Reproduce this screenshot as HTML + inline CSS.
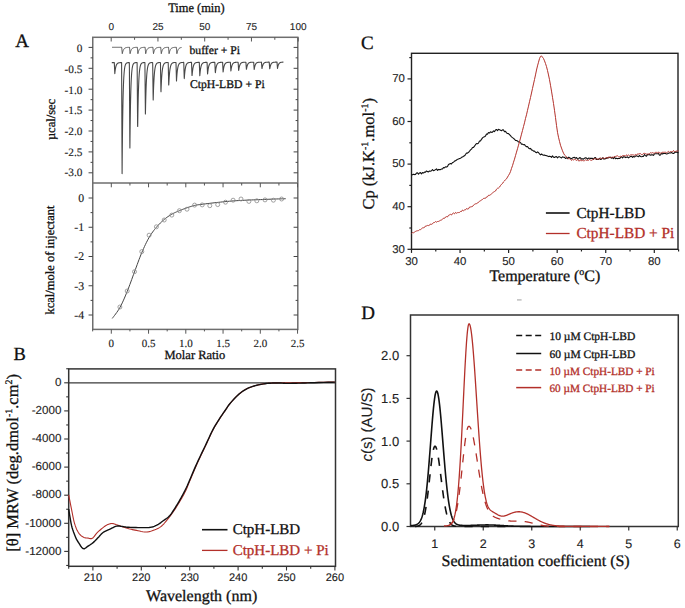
<!DOCTYPE html>
<html><head><meta charset="utf-8"><style>
html,body{margin:0;padding:0;background:#fff;overflow:hidden;}
svg{display:block;} text{text-rendering:geometricPrecision;}
</style></head><body>
<svg width="685" height="608" viewBox="0 0 685 608"><rect x="92.75" y="37.3" width="205.05" height="292.1" fill="none" stroke="#6e6e6e" stroke-width="1.5"/>
<line x1="92.75" y1="183" x2="297.8" y2="183" stroke="#6e6e6e" stroke-width="1.5" />
<line x1="111.2" y1="37.3" x2="111.2" y2="41.5" stroke="#555" stroke-width="1" />
<line x1="134.57" y1="37.3" x2="134.57" y2="39.8" stroke="#555" stroke-width="1" />
<line x1="157.95" y1="37.3" x2="157.95" y2="41.5" stroke="#555" stroke-width="1" />
<line x1="181.32" y1="37.3" x2="181.32" y2="39.8" stroke="#555" stroke-width="1" />
<line x1="204.7" y1="37.3" x2="204.7" y2="41.5" stroke="#555" stroke-width="1" />
<line x1="228.07" y1="37.3" x2="228.07" y2="39.8" stroke="#555" stroke-width="1" />
<line x1="251.45" y1="37.3" x2="251.45" y2="41.5" stroke="#555" stroke-width="1" />
<line x1="274.82" y1="37.3" x2="274.82" y2="39.8" stroke="#555" stroke-width="1" />
<line x1="298.2" y1="37.3" x2="298.2" y2="41.5" stroke="#555" stroke-width="1" />
<text x="111.2" y="29.6"  font-family='"Liberation Sans", sans-serif' font-size="10" text-anchor="middle" fill="#222" font-weight="normal" stroke="#222" stroke-width="0.1" >0</text>
<text x="157.95" y="29.6"  font-family='"Liberation Sans", sans-serif' font-size="10" text-anchor="middle" fill="#222" font-weight="normal" stroke="#222" stroke-width="0.1" >25</text>
<text x="204.7" y="29.6"  font-family='"Liberation Sans", sans-serif' font-size="10" text-anchor="middle" fill="#222" font-weight="normal" stroke="#222" stroke-width="0.1" >50</text>
<text x="251.45" y="29.6"  font-family='"Liberation Sans", sans-serif' font-size="10" text-anchor="middle" fill="#222" font-weight="normal" stroke="#222" stroke-width="0.1" >75</text>
<text x="298.2" y="29.6"  font-family='"Liberation Sans", sans-serif' font-size="10" text-anchor="middle" fill="#222" font-weight="normal" stroke="#222" stroke-width="0.1" >100</text>
<text x="0" y="0" transform="translate(168.2,11.8) scale(0.955,1)" font-family='"Liberation Serif", serif' font-size="13" text-anchor="start" fill="#111" font-weight="normal" stroke="#111" stroke-width="0.3" >Time (min)</text>
<line x1="88.55" y1="47.4" x2="92.75" y2="47.4" stroke="#444" stroke-width="1" />
<line x1="293.6" y1="47.4" x2="297.8" y2="47.4" stroke="#444" stroke-width="1" />
<line x1="90.55" y1="57.85" x2="92.75" y2="57.85" stroke="#444" stroke-width="1" />
<line x1="295.6" y1="57.85" x2="297.8" y2="57.85" stroke="#444" stroke-width="1" />
<line x1="88.55" y1="68.3" x2="92.75" y2="68.3" stroke="#444" stroke-width="1" />
<line x1="293.6" y1="68.3" x2="297.8" y2="68.3" stroke="#444" stroke-width="1" />
<line x1="90.55" y1="78.75" x2="92.75" y2="78.75" stroke="#444" stroke-width="1" />
<line x1="295.6" y1="78.75" x2="297.8" y2="78.75" stroke="#444" stroke-width="1" />
<line x1="88.55" y1="89.2" x2="92.75" y2="89.2" stroke="#444" stroke-width="1" />
<line x1="293.6" y1="89.2" x2="297.8" y2="89.2" stroke="#444" stroke-width="1" />
<line x1="90.55" y1="99.65" x2="92.75" y2="99.65" stroke="#444" stroke-width="1" />
<line x1="295.6" y1="99.65" x2="297.8" y2="99.65" stroke="#444" stroke-width="1" />
<line x1="88.55" y1="110.1" x2="92.75" y2="110.1" stroke="#444" stroke-width="1" />
<line x1="293.6" y1="110.1" x2="297.8" y2="110.1" stroke="#444" stroke-width="1" />
<line x1="90.55" y1="120.55" x2="92.75" y2="120.55" stroke="#444" stroke-width="1" />
<line x1="295.6" y1="120.55" x2="297.8" y2="120.55" stroke="#444" stroke-width="1" />
<line x1="88.55" y1="131" x2="92.75" y2="131" stroke="#444" stroke-width="1" />
<line x1="293.6" y1="131" x2="297.8" y2="131" stroke="#444" stroke-width="1" />
<line x1="90.55" y1="141.45" x2="92.75" y2="141.45" stroke="#444" stroke-width="1" />
<line x1="295.6" y1="141.45" x2="297.8" y2="141.45" stroke="#444" stroke-width="1" />
<line x1="88.55" y1="151.9" x2="92.75" y2="151.9" stroke="#444" stroke-width="1" />
<line x1="293.6" y1="151.9" x2="297.8" y2="151.9" stroke="#444" stroke-width="1" />
<line x1="90.55" y1="162.35" x2="92.75" y2="162.35" stroke="#444" stroke-width="1" />
<line x1="295.6" y1="162.35" x2="297.8" y2="162.35" stroke="#444" stroke-width="1" />
<line x1="88.55" y1="172.8" x2="92.75" y2="172.8" stroke="#444" stroke-width="1" />
<line x1="293.6" y1="172.8" x2="297.8" y2="172.8" stroke="#444" stroke-width="1" />
<text x="82.5" y="52.2"  font-family='"Liberation Serif", serif' font-size="11.3" text-anchor="end" fill="#222" font-weight="normal" stroke="#222" stroke-width="0.15" >0</text>
<text x="82.5" y="72.87"  font-family='"Liberation Serif", serif' font-size="11.3" text-anchor="end" fill="#222" font-weight="normal" stroke="#222" stroke-width="0.15" >-0.5</text>
<text x="82.5" y="93.54"  font-family='"Liberation Serif", serif' font-size="11.3" text-anchor="end" fill="#222" font-weight="normal" stroke="#222" stroke-width="0.15" >-1.0</text>
<text x="82.5" y="114.21"  font-family='"Liberation Serif", serif' font-size="11.3" text-anchor="end" fill="#222" font-weight="normal" stroke="#222" stroke-width="0.15" >-1.5</text>
<text x="82.5" y="134.88"  font-family='"Liberation Serif", serif' font-size="11.3" text-anchor="end" fill="#222" font-weight="normal" stroke="#222" stroke-width="0.15" >-2.0</text>
<text x="82.5" y="155.55"  font-family='"Liberation Serif", serif' font-size="11.3" text-anchor="end" fill="#222" font-weight="normal" stroke="#222" stroke-width="0.15" >-2.5</text>
<text x="82.5" y="176.22"  font-family='"Liberation Serif", serif' font-size="11.3" text-anchor="end" fill="#222" font-weight="normal" stroke="#222" stroke-width="0.15" >-3.0</text>
<line x1="111.3" y1="183" x2="111.3" y2="187.3" stroke="#555" stroke-width="1" />
<line x1="111.3" y1="329.4" x2="111.3" y2="333.7" stroke="#555" stroke-width="1" />
<line x1="129.93" y1="183" x2="129.93" y2="185.5" stroke="#555" stroke-width="1" />
<line x1="129.93" y1="329.4" x2="129.93" y2="331.4" stroke="#555" stroke-width="1" />
<line x1="148.55" y1="183" x2="148.55" y2="187.3" stroke="#555" stroke-width="1" />
<line x1="148.55" y1="329.4" x2="148.55" y2="333.7" stroke="#555" stroke-width="1" />
<line x1="167.18" y1="183" x2="167.18" y2="185.5" stroke="#555" stroke-width="1" />
<line x1="167.18" y1="329.4" x2="167.18" y2="331.4" stroke="#555" stroke-width="1" />
<line x1="185.8" y1="183" x2="185.8" y2="187.3" stroke="#555" stroke-width="1" />
<line x1="185.8" y1="329.4" x2="185.8" y2="333.7" stroke="#555" stroke-width="1" />
<line x1="204.43" y1="183" x2="204.43" y2="185.5" stroke="#555" stroke-width="1" />
<line x1="204.43" y1="329.4" x2="204.43" y2="331.4" stroke="#555" stroke-width="1" />
<line x1="223.05" y1="183" x2="223.05" y2="187.3" stroke="#555" stroke-width="1" />
<line x1="223.05" y1="329.4" x2="223.05" y2="333.7" stroke="#555" stroke-width="1" />
<line x1="241.68" y1="183" x2="241.68" y2="185.5" stroke="#555" stroke-width="1" />
<line x1="241.68" y1="329.4" x2="241.68" y2="331.4" stroke="#555" stroke-width="1" />
<line x1="260.3" y1="183" x2="260.3" y2="187.3" stroke="#555" stroke-width="1" />
<line x1="260.3" y1="329.4" x2="260.3" y2="333.7" stroke="#555" stroke-width="1" />
<line x1="278.93" y1="183" x2="278.93" y2="185.5" stroke="#555" stroke-width="1" />
<line x1="278.93" y1="329.4" x2="278.93" y2="331.4" stroke="#555" stroke-width="1" />
<line x1="297.55" y1="183" x2="297.55" y2="187.3" stroke="#555" stroke-width="1" />
<line x1="297.55" y1="329.4" x2="297.55" y2="333.7" stroke="#555" stroke-width="1" />
<line x1="92.67" y1="329.4" x2="92.67" y2="331.4" stroke="#555" stroke-width="1" />
<line x1="88.55" y1="198" x2="92.75" y2="198" stroke="#444" stroke-width="1" />
<line x1="293.6" y1="198" x2="297.8" y2="198" stroke="#444" stroke-width="1" />
<line x1="90.55" y1="212.62" x2="92.75" y2="212.62" stroke="#444" stroke-width="1" />
<line x1="295.6" y1="212.62" x2="297.8" y2="212.62" stroke="#444" stroke-width="1" />
<line x1="88.55" y1="227.25" x2="92.75" y2="227.25" stroke="#444" stroke-width="1" />
<line x1="293.6" y1="227.25" x2="297.8" y2="227.25" stroke="#444" stroke-width="1" />
<line x1="90.55" y1="241.88" x2="92.75" y2="241.88" stroke="#444" stroke-width="1" />
<line x1="295.6" y1="241.88" x2="297.8" y2="241.88" stroke="#444" stroke-width="1" />
<line x1="88.55" y1="256.5" x2="92.75" y2="256.5" stroke="#444" stroke-width="1" />
<line x1="293.6" y1="256.5" x2="297.8" y2="256.5" stroke="#444" stroke-width="1" />
<line x1="90.55" y1="271.12" x2="92.75" y2="271.12" stroke="#444" stroke-width="1" />
<line x1="295.6" y1="271.12" x2="297.8" y2="271.12" stroke="#444" stroke-width="1" />
<line x1="88.55" y1="285.75" x2="92.75" y2="285.75" stroke="#444" stroke-width="1" />
<line x1="293.6" y1="285.75" x2="297.8" y2="285.75" stroke="#444" stroke-width="1" />
<line x1="90.55" y1="300.38" x2="92.75" y2="300.38" stroke="#444" stroke-width="1" />
<line x1="295.6" y1="300.38" x2="297.8" y2="300.38" stroke="#444" stroke-width="1" />
<line x1="88.55" y1="315" x2="92.75" y2="315" stroke="#444" stroke-width="1" />
<line x1="293.6" y1="315" x2="297.8" y2="315" stroke="#444" stroke-width="1" />
<text x="84.1" y="201.9"  font-family='"Liberation Serif", serif' font-size="11.8" text-anchor="end" fill="#222" font-weight="normal" stroke="#222" stroke-width="0.15" >0</text>
<text x="84.1" y="231.15"  font-family='"Liberation Serif", serif' font-size="11.8" text-anchor="end" fill="#222" font-weight="normal" stroke="#222" stroke-width="0.15" >-1</text>
<text x="84.1" y="260.4"  font-family='"Liberation Serif", serif' font-size="11.8" text-anchor="end" fill="#222" font-weight="normal" stroke="#222" stroke-width="0.15" >-2</text>
<text x="84.1" y="289.65"  font-family='"Liberation Serif", serif' font-size="11.8" text-anchor="end" fill="#222" font-weight="normal" stroke="#222" stroke-width="0.15" >-3</text>
<text x="84.1" y="318.9"  font-family='"Liberation Serif", serif' font-size="11.8" text-anchor="end" fill="#222" font-weight="normal" stroke="#222" stroke-width="0.15" >-4</text>
<text x="111.3" y="346.6"  font-family='"Liberation Serif", serif' font-size="11" text-anchor="middle" fill="#222" font-weight="normal" stroke="#222" stroke-width="0.15" >0</text>
<text x="148.55" y="346.6"  font-family='"Liberation Serif", serif' font-size="11" text-anchor="middle" fill="#222" font-weight="normal" stroke="#222" stroke-width="0.15" >0.5</text>
<text x="185.8" y="346.6"  font-family='"Liberation Serif", serif' font-size="11" text-anchor="middle" fill="#222" font-weight="normal" stroke="#222" stroke-width="0.15" >1.0</text>
<text x="223.05" y="346.6"  font-family='"Liberation Serif", serif' font-size="11" text-anchor="middle" fill="#222" font-weight="normal" stroke="#222" stroke-width="0.15" >1.5</text>
<text x="260.3" y="346.6"  font-family='"Liberation Serif", serif' font-size="11" text-anchor="middle" fill="#222" font-weight="normal" stroke="#222" stroke-width="0.15" >2.0</text>
<text x="297.55" y="346.6"  font-family='"Liberation Serif", serif' font-size="11" text-anchor="middle" fill="#222" font-weight="normal" stroke="#222" stroke-width="0.15" >2.5</text>
<text x="164.5" y="358.5"  font-family='"Liberation Serif", serif' font-size="12.5" text-anchor="start" fill="#111" font-weight="normal" stroke="#111" stroke-width="0.3" >Molar Ratio</text>
<text x="0" y="0" transform="translate(54.8,119.5) rotate(-90)" font-family='"Liberation Serif", serif' font-size="12.5" text-anchor="middle" fill="#111" font-weight="normal" stroke="#111" stroke-width="0.3" >µcal/sec</text>
<text x="0" y="0" transform="translate(53.6,260) rotate(-90)" font-family='"Liberation Serif", serif' font-size="12.5" text-anchor="middle" fill="#111" font-weight="normal" stroke="#111" stroke-width="0.3" >kcal/mole of injectant</text>
<text x="15.3" y="46.9"  font-family='"Liberation Serif", serif' font-size="19" text-anchor="start" fill="#111" font-weight="normal" stroke="#111" stroke-width="0.3" >A</text>
<text x="189.5" y="54"  font-family='"Liberation Serif", serif' font-size="11.7" text-anchor="start" fill="#111" font-weight="normal" stroke="#111" stroke-width="0.3" >buffer + Pi</text>
<text x="189.9" y="88.3"  font-family='"Liberation Serif", serif' font-size="11.7" text-anchor="start" fill="#111" font-weight="normal" stroke="#111" stroke-width="0.3" >CtpH-LBD + Pi</text>
<path d="M112,47.3 L112.1,47.3 L112.2,47.3 L112.3,47.3 L112.4,47.3 L112.5,47.3 L112.6,47.3 L112.7,47.3 L112.8,47.3 L112.9,47.3 L113,47.3 L113.1,47.3 L113.2,47.3 L113.3,47.3 L113.4,47.3 L113.5,47.3 L113.6,47.3 L113.7,47.3 L113.8,47.3 L113.9,47.3 L114,47.3 L114.1,47.3 L114.2,47.3 L114.3,47.3 L114.4,47.3 L114.5,47.3 L114.6,47.3 L114.7,47.3 L114.8,47.3 L114.9,47.3 L115,47.3 L115.1,47.3 L115.2,47.3 L115.3,47.3 L115.4,47.3 L115.5,47.3 L115.6,47.3 L115.7,47.3 L115.8,47.3 L115.9,47.3 L116,47.3 L116.1,47.3 L116.2,47.3 L116.3,47.3 L116.4,47.3 L116.5,47.3 L116.6,47.3 L116.7,47.3 L116.8,47.3 L116.9,47.3 L117,47.3 L117.1,47.3 L117.2,47.3 L117.3,47.3 L117.4,47.3 L117.5,47.3 L117.6,47.3 L117.7,47.3 L117.8,47.3 L117.9,47.3 L118,47.3 L118.1,47.3 L118.2,47.3 L118.3,47.3 L118.4,47.3 L118.5,47.3 L118.6,47.3 L118.7,47.3 L118.8,47.3 L118.9,47.3 L119,47.3 L119.1,47.3 L119.2,47.3 L119.3,47.3 L119.4,47.3 L119.5,47.3 L119.6,47.3 L119.7,47.3 L119.8,47.3 L119.9,47.3 L120,47.3 L120.1,47.3 L120.2,47.3 L120.3,47.3 L120.4,47.3 L120.5,47.3 L120.6,47.3 L120.7,47.3 L120.8,47.3 L120.9,47.3 L121,47.3 L121.1,47.3 L121.2,47.3 L121.3,47.3 L121.4,47.3 L121.5,47.3 L121.6,47.3 L121.7,47.3 L121.8,48.35 L121.9,49.4 L122,50.45 L122.1,51.5 L122.2,52.55 L122.3,53.6 L122.4,53.13 L122.5,52.7 L122.6,52.3 L122.7,51.93 L122.8,51.59 L122.9,51.27 L123,50.98 L123.1,50.7 L123.2,50.45 L123.3,50.22 L123.4,50 L123.5,49.8 L123.6,49.62 L123.7,49.45 L123.8,49.29 L123.9,49.14 L124,49 L124.1,48.88 L124.2,48.76 L124.3,48.65 L124.4,48.55 L124.5,48.46 L124.6,48.37 L124.7,48.29 L124.8,48.22 L124.9,48.15 L125,48.09 L125.1,48.03 L125.2,47.98 L125.3,47.93 L125.4,47.88 L125.5,47.84 L125.6,47.8 L125.7,47.76 L125.8,47.73 L125.9,47.7 L126,47.67 L126.1,47.64 L126.2,47.61 L126.3,47.59 L126.4,47.57 L126.5,47.55 L126.6,47.53 L126.7,47.51 L126.8,47.5 L126.9,47.48 L127,47.47 L127.1,47.46 L127.2,47.45 L127.3,47.43 L127.4,47.42 L127.5,47.42 L127.6,47.41 L127.7,47.4 L127.8,47.39 L127.9,47.38 L128,47.38 L128.1,47.37 L128.2,47.37 L128.3,47.36 L128.4,47.36 L128.5,47.35 L128.6,47.35 L128.7,47.35 L128.8,47.34 L128.9,47.34 L129,47.34 L129.1,47.33 L129.2,47.33 L129.3,47.33 L129.4,47.33 L129.5,47.32 L129.6,48.37 L129.7,49.42 L129.8,50.47 L129.9,51.52 L130,52.57 L130.1,53.62 L130.2,53.15 L130.3,52.72 L130.4,52.31 L130.5,51.94 L130.6,51.6 L130.7,51.28 L130.8,50.99 L130.9,50.71 L131,50.46 L131.1,50.23 L131.2,50.01 L131.3,49.81 L131.4,49.62 L131.5,49.45 L131.6,49.29 L131.7,49.14 L131.8,49.01 L131.9,48.88 L132,48.76 L132.1,48.66 L132.2,48.56 L132.3,48.46 L132.4,48.38 L132.5,48.3 L132.6,48.22 L132.7,48.15 L132.8,48.09 L132.9,48.03 L133,47.98 L133.1,47.93 L133.2,47.88 L133.3,47.84 L133.4,47.8 L133.5,47.76 L133.6,47.73 L133.7,47.7 L133.8,47.67 L133.9,47.64 L134,47.61 L134.1,47.59 L134.2,47.57 L134.3,47.55 L134.4,47.53 L134.5,47.51 L134.6,47.5 L134.7,47.48 L134.8,47.47 L134.9,47.46 L135,47.45 L135.1,47.43 L135.2,47.42 L135.3,47.42 L135.4,47.41 L135.5,47.4 L135.6,47.39 L135.7,47.39 L135.8,47.38 L135.9,47.37 L136,47.37 L136.1,47.36 L136.2,47.36 L136.3,47.35 L136.4,47.35 L136.5,47.35 L136.6,47.34 L136.7,47.34 L136.8,47.34 L136.9,47.33 L137,47.33 L137.1,47.33 L137.2,47.33 L137.3,47.32 L137.4,48.37 L137.5,49.42 L137.6,50.47 L137.7,51.52 L137.8,52.57 L137.9,53.62 L138,53.15 L138.1,52.72 L138.2,52.31 L138.3,51.94 L138.4,51.6 L138.5,51.28 L138.6,50.99 L138.7,50.71 L138.8,50.46 L138.9,50.23 L139,50.01 L139.1,49.81 L139.2,49.62 L139.3,49.45 L139.4,49.29 L139.5,49.14 L139.6,49.01 L139.7,48.88 L139.8,48.76 L139.9,48.66 L140,48.56 L140.1,48.46 L140.2,48.38 L140.3,48.3 L140.4,48.22 L140.5,48.15 L140.6,48.09 L140.7,48.03 L140.8,47.98 L140.9,47.93 L141,47.88 L141.1,47.84 L141.2,47.8 L141.3,47.76 L141.4,47.73 L141.5,47.7 L141.6,47.67 L141.7,47.64 L141.8,47.61 L141.9,47.59 L142,47.57 L142.1,47.55 L142.2,47.53 L142.3,47.51 L142.4,47.5 L142.5,47.48 L142.6,47.47 L142.7,47.46 L142.8,47.45 L142.9,47.43 L143,47.42 L143.1,47.42 L143.2,47.41 L143.3,47.4 L143.4,47.39 L143.5,47.39 L143.6,47.38 L143.7,47.37 L143.8,47.37 L143.9,47.36 L144,47.36 L144.1,47.35 L144.2,47.35 L144.3,47.35 L144.4,47.34 L144.5,47.34 L144.6,47.34 L144.7,47.33 L144.8,47.33 L144.9,47.33 L145,47.33 L145.1,47.32 L145.2,48.37 L145.3,49.42 L145.4,50.47 L145.5,51.52 L145.6,52.57 L145.7,53.62 L145.8,53.15 L145.9,52.72 L146,52.31 L146.1,51.94 L146.2,51.6 L146.3,51.28 L146.4,50.99 L146.5,50.71 L146.6,50.46 L146.7,50.23 L146.8,50.01 L146.9,49.81 L147,49.62 L147.1,49.45 L147.2,49.29 L147.3,49.14 L147.4,49.01 L147.5,48.88 L147.6,48.76 L147.7,48.66 L147.8,48.56 L147.9,48.46 L148,48.38 L148.1,48.3 L148.2,48.22 L148.3,48.15 L148.4,48.09 L148.5,48.03 L148.6,47.98 L148.7,47.93 L148.8,47.88 L148.9,47.84 L149,47.8 L149.1,47.76 L149.2,47.73 L149.3,47.7 L149.4,47.67 L149.5,47.64 L149.6,47.61 L149.7,47.59 L149.8,47.57 L149.9,47.55 L150,47.53 L150.1,47.51 L150.2,47.5 L150.3,47.48 L150.4,47.47 L150.5,47.46 L150.6,47.45 L150.7,47.43 L150.8,47.42 L150.9,47.42 L151,47.41 L151.1,47.4 L151.2,47.39 L151.3,47.39 L151.4,47.38 L151.5,47.37 L151.6,47.37 L151.7,47.36 L151.8,47.36 L151.9,47.35 L152,47.35 L152.1,47.35 L152.2,47.34 L152.3,47.34 L152.4,47.34 L152.5,47.33 L152.6,47.33 L152.7,47.33 L152.8,47.33 L152.9,47.32 L153,48.37 L153.1,49.42 L153.2,50.47 L153.3,51.52 L153.4,52.57 L153.5,53.62 L153.6,53.15 L153.7,52.72 L153.8,52.31 L153.9,51.94 L154,51.6 L154.1,51.28 L154.2,50.99 L154.3,50.71 L154.4,50.46 L154.5,50.23 L154.6,50.01 L154.7,49.81 L154.8,49.62 L154.9,49.45 L155,49.29 L155.1,49.14 L155.2,49.01 L155.3,48.88 L155.4,48.76 L155.5,48.66 L155.6,48.56 L155.7,48.46 L155.8,48.38 L155.9,48.3 L156,48.22 L156.1,48.15 L156.2,48.09 L156.3,48.03 L156.4,47.98 L156.5,47.93 L156.6,47.88 L156.7,47.84 L156.8,47.8 L156.9,47.76 L157,47.73 L157.1,47.7 L157.2,47.67 L157.3,47.64 L157.4,47.61 L157.5,47.59 L157.6,47.57 L157.7,47.55 L157.8,47.53 L157.9,47.51 L158,47.5 L158.1,47.48 L158.2,47.47 L158.3,47.46 L158.4,47.45 L158.5,47.43 L158.6,47.42 L158.7,47.42 L158.8,47.41 L158.9,47.4 L159,47.39 L159.1,47.39 L159.2,47.38 L159.3,47.37 L159.4,47.37 L159.5,47.36 L159.6,47.36 L159.7,47.35 L159.8,47.35 L159.9,47.35 L160,47.34 L160.1,47.34 L160.2,47.34 L160.3,47.33 L160.4,47.33 L160.5,47.33 L160.6,47.33 L160.7,47.32 L160.8,48.37 L160.9,49.42 L161,50.47 L161.1,51.52 L161.2,52.57 L161.3,53.62 L161.4,53.15 L161.5,52.72 L161.6,52.31 L161.7,51.94 L161.8,51.6 L161.9,51.28 L162,50.99 L162.1,50.71 L162.2,50.46 L162.3,50.23 L162.4,50.01 L162.5,49.81 L162.6,49.62 L162.7,49.45 L162.8,49.29 L162.9,49.14 L163,49.01 L163.1,48.88 L163.2,48.76 L163.3,48.66 L163.4,48.56 L163.5,48.46 L163.6,48.38 L163.7,48.3 L163.8,48.22 L163.9,48.15 L164,48.09 L164.1,48.03 L164.2,47.98 L164.3,47.93 L164.4,47.88 L164.5,47.84 L164.6,47.8 L164.7,47.76 L164.8,47.73 L164.9,47.7 L165,47.67 L165.1,47.64 L165.2,47.61 L165.3,47.59 L165.4,47.57 L165.5,47.55 L165.6,47.53 L165.7,47.51 L165.8,47.5 L165.9,47.48 L166,47.47 L166.1,47.46 L166.2,47.45 L166.3,47.43 L166.4,47.42 L166.5,47.42 L166.6,47.41 L166.7,47.4 L166.8,47.39 L166.9,47.39 L167,47.38 L167.1,47.37 L167.2,47.37 L167.3,47.36 L167.4,47.36 L167.5,47.35 L167.6,47.35 L167.7,47.35 L167.8,47.34 L167.9,47.34 L168,47.34 L168.1,47.33 L168.2,47.33 L168.3,47.33 L168.4,47.33 L168.5,47.32 L168.6,48.37 L168.7,49.42 L168.8,50.47 L168.9,51.52 L169,52.57 L169.1,53.62 L169.2,53.15 L169.3,52.72 L169.4,52.31 L169.5,51.94 L169.6,51.6 L169.7,51.28 L169.8,50.99 L169.9,50.71 L170,50.46 L170.1,50.23 L170.2,50.01 L170.3,49.81 L170.4,49.62 L170.5,49.45 L170.6,49.29 L170.7,49.14 L170.8,49.01 L170.9,48.88 L171,48.76 L171.1,48.66 L171.2,48.56 L171.3,48.46 L171.4,48.38 L171.5,48.3 L171.6,48.22 L171.7,48.15 L171.8,48.09 L171.9,48.03 L172,47.98 L172.1,47.93 L172.2,47.88 L172.3,47.84 L172.4,47.8 L172.5,47.76 L172.6,47.73 L172.7,47.7 L172.8,47.67 L172.9,47.64 L173,47.61 L173.1,47.59 L173.2,47.57 L173.3,47.55 L173.4,47.53 L173.5,47.51 L173.6,47.5 L173.7,47.48 L173.8,47.47 L173.9,47.46 L174,47.45 L174.1,47.43 L174.2,47.42 L174.3,47.42 L174.4,47.41 L174.5,47.4 L174.6,47.39 L174.7,47.39 L174.8,47.38 L174.9,47.37 L175,47.37 L175.1,47.36 L175.2,47.36 L175.3,47.35 L175.4,47.35 L175.5,47.35 L175.6,47.34 L175.7,47.34 L175.8,47.34 L175.9,47.33 L176,47.33 L176.1,47.33 L176.2,47.33 L176.3,47.32 L176.4,48.37 L176.5,49.42 L176.6,50.47 L176.7,51.52 L176.8,52.57 L176.9,53.62 L177,53.15 L177.1,52.72 L177.2,52.31 L177.3,51.94 L177.4,51.6 L177.5,51.28 L177.6,50.99 L177.7,50.71 L177.8,50.46 L177.9,50.23 L178,50.01 L178.1,49.81 L178.2,49.62 L178.3,49.45 L178.4,49.29 L178.5,49.14 L178.6,49.01 L178.7,48.88 L178.8,48.76 L178.9,48.66 L179,48.56 L179.1,48.46 L179.2,48.38 L179.3,48.3 L179.4,48.22 L179.5,48.15 L179.6,48.09 L179.7,48.03 L179.8,47.98 L179.9,47.93 L180,47.88 L180.1,47.84 L180.2,47.8 L180.3,47.76 L180.4,47.73 L180.5,47.7 L180.6,47.67 L180.7,47.64 L180.8,47.61 L180.9,47.59 L181,47.57 L181.1,47.55 L181.2,47.53 L181.3,47.51 L181.4,47.5 L181.5,47.48 L181.6,47.47" fill="none" stroke="#484848" stroke-width="1.0" stroke-linejoin="round" />
<path d="M111.8,62.6 L111.9,62.6 L112,62.6 L112.1,62.6 L112.2,62.6 L112.3,62.6 L112.4,62.6 L112.5,62.6 L112.6,62.6 L112.7,62.6 L112.8,62.6 L112.9,62.6 L113,62.6 L113.1,62.6 L113.2,62.6 L113.3,62.6 L113.4,62.6 L113.5,62.6 L113.6,62.59 L113.7,62.59 L113.8,62.59 L113.9,62.59 L114,62.59 L114.1,62.59 L114.2,62.59 L114.3,62.59 L114.4,64.79 L114.5,66.99 L114.6,69.19 L114.7,71.39 L114.8,73.59 L114.9,72.61 L115,71.71 L115.1,70.89 L115.2,70.15 L115.3,69.47 L115.4,68.86 L115.5,68.3 L115.6,67.79 L115.7,67.32 L115.8,66.9 L115.9,66.51 L116,66.16 L116.1,65.84 L116.2,65.55 L116.3,65.28 L116.4,65.04 L116.5,64.82 L116.6,64.62 L116.7,64.44 L116.8,64.27 L116.9,64.12 L117,63.98 L117.1,63.86 L117.2,63.74 L117.3,63.64 L117.4,63.55 L117.5,63.46 L117.6,63.38 L117.7,63.31 L117.8,63.24 L117.9,63.18 L118,63.13 L118.1,63.08 L118.2,63.04 L118.3,62.99 L118.4,62.96 L118.5,62.92 L118.6,62.89 L118.7,62.86 L118.8,62.84 L118.9,62.82 L119,62.79 L119.1,62.77 L119.2,62.76 L119.3,62.74 L119.4,62.73 L119.5,62.71 L119.6,62.7 L119.7,62.69 L119.8,62.68 L119.9,62.67 L120,62.66 L120.1,62.65 L120.2,62.65 L120.3,62.64 L120.4,62.63 L120.5,62.63 L120.6,62.62 L120.7,62.62 L120.8,62.61 L120.9,62.61 L121,62.61 L121.1,62.6 L121.2,62.6 L121.3,62.6 L121.4,62.59 L121.5,62.59 L121.6,62.59 L121.7,84.79 L121.8,107 L121.9,129.2 L122,151.41 L122.1,173.61 L122.2,161.29 L122.3,150.33 L122.4,140.59 L122.5,131.93 L122.6,124.23 L122.7,117.39 L122.8,111.3 L122.9,105.89 L123,101.08 L123.1,96.81 L123.2,93.01 L123.3,89.63 L123.4,86.63 L123.5,83.95 L123.6,81.58 L123.7,79.47 L123.8,77.59 L123.9,75.93 L124,74.44 L124.1,73.12 L124.2,71.95 L124.3,70.91 L124.4,69.98 L124.5,69.16 L124.6,68.43 L124.7,67.78 L124.8,67.2 L124.9,66.68 L125,66.22 L125.1,65.82 L125.2,65.46 L125.3,65.13 L125.4,64.85 L125.5,64.59 L125.6,64.37 L125.7,64.17 L125.8,63.99 L125.9,63.83 L126,63.69 L126.1,63.56 L126.2,63.45 L126.3,63.35 L126.4,63.26 L126.5,63.18 L126.6,63.11 L126.7,63.05 L126.8,63 L126.9,62.95 L127,62.9 L127.1,62.87 L127.2,62.83 L127.3,62.8 L127.4,62.77 L127.5,62.75 L127.6,62.73 L127.7,62.71 L127.8,62.69 L127.9,62.67 L128,62.66 L128.1,62.65 L128.2,62.64 L128.3,62.63 L128.4,62.62 L128.5,62.61 L128.6,62.6 L128.7,62.6 L128.8,62.59 L128.9,62.59 L129,62.58 L129.1,62.58 L129.2,62.58 L129.3,62.57 L129.4,67.88 L129.5,85.59 L129.6,103.3 L129.7,121.01 L129.8,138.71 L129.9,148.04 L130,138.55 L130.1,130.11 L130.2,122.61 L130.3,115.95 L130.4,110.02 L130.5,104.75 L130.6,100.07 L130.7,95.9 L130.8,92.2 L130.9,88.91 L131,85.98 L131.1,83.38 L131.2,81.07 L131.3,79.01 L131.4,77.18 L131.5,75.56 L131.6,74.11 L131.7,72.83 L131.8,71.69 L131.9,70.67 L132,69.77 L132.1,68.97 L132.2,68.25 L132.3,67.62 L132.4,67.05 L132.5,66.55 L132.6,66.11 L132.7,65.71 L132.8,65.36 L132.9,65.05 L133,64.77 L133.1,64.52 L133.2,64.3 L133.3,64.1 L133.4,63.93 L133.5,63.77 L133.6,63.64 L133.7,63.51 L133.8,63.41 L133.9,63.31 L134,63.22 L134.1,63.15 L134.2,63.08 L134.3,63.02 L134.4,62.96 L134.5,62.92 L134.6,62.87 L134.7,62.83 L134.8,62.8 L134.9,62.77 L135,62.74 L135.1,62.72 L135.2,62.7 L135.3,62.68 L135.4,62.66 L135.5,62.65 L135.6,62.64 L135.7,62.62 L135.8,62.61 L135.9,62.6 L136,62.59 L136.1,62.59 L136.2,62.58 L136.3,62.57 L136.4,62.57 L136.5,62.56 L136.6,62.56 L136.7,62.56 L136.8,62.55 L136.9,62.55 L137,62.55 L137.1,62.54 L137.2,70.76 L137.3,84.45 L137.4,98.14 L137.5,111.84 L137.6,125.53 L137.7,126.56 L137.8,119.79 L137.9,113.73 L138,108.32 L138.1,103.47 L138.2,99.14 L138.3,95.27 L138.4,91.81 L138.5,88.71 L138.6,85.94 L138.7,83.46 L138.8,81.25 L138.9,79.27 L139,77.49 L139.1,75.91 L139.2,74.49 L139.3,73.23 L139.4,72.09 L139.5,71.08 L139.6,70.18 L139.7,69.37 L139.8,68.64 L139.9,67.99 L140,67.41 L140.1,66.9 L140.2,66.43 L140.3,66.02 L140.4,65.65 L140.5,65.32 L140.6,65.02 L140.7,64.75 L140.8,64.52 L140.9,64.31 L141,64.12 L141.1,63.95 L141.2,63.79 L141.3,63.66 L141.4,63.54 L141.5,63.43 L141.6,63.33 L141.7,63.24 L141.8,63.17 L141.9,63.1 L142,63.04 L142.1,62.98 L142.2,62.93 L142.3,62.89 L142.4,62.85 L142.5,62.81 L142.6,62.78 L142.7,62.75 L142.8,62.72 L142.9,62.7 L143,62.68 L143.1,62.66 L143.2,62.65 L143.3,62.63 L143.4,62.62 L143.5,62.61 L143.6,62.59 L143.7,62.59 L143.8,62.58 L143.9,62.57 L144,62.56 L144.1,62.56 L144.2,62.55 L144.3,62.55 L144.4,62.54 L144.5,62.54 L144.6,62.53 L144.7,62.53 L144.8,62.53 L144.9,62.52 L145,71.99 L145.1,82.51 L145.2,93.02 L145.3,103.54 L145.4,114.06 L145.5,110.32 L145.6,105.5 L145.7,101.17 L145.8,97.28 L145.9,93.78 L146,90.63 L146.1,87.79 L146.2,85.25 L146.3,82.96 L146.4,80.9 L146.5,79.04 L146.6,77.38 L146.7,75.88 L146.8,74.53 L146.9,73.32 L147,72.23 L147.1,71.25 L147.2,70.37 L147.3,69.57 L147.4,68.86 L147.5,68.22 L147.6,67.64 L147.7,67.12 L147.8,66.66 L147.9,66.24 L148,65.86 L148.1,65.52 L148.2,65.22 L148.3,64.94 L148.4,64.7 L148.5,64.47 L148.6,64.27 L148.7,64.09 L148.8,63.93 L148.9,63.79 L149,63.66 L149.1,63.54 L149.2,63.43 L149.3,63.34 L149.4,63.25 L149.5,63.18 L149.6,63.11 L149.7,63.04 L149.8,62.99 L149.9,62.94 L150,62.89 L150.1,62.85 L150.2,62.81 L150.3,62.78 L150.4,62.75 L150.5,62.72 L150.6,62.7 L150.7,62.68 L150.8,62.66 L150.9,62.64 L151,62.63 L151.1,62.61 L151.2,62.6 L151.3,62.59 L151.4,62.58 L151.5,62.57 L151.6,62.56 L151.7,62.55 L151.8,62.54 L151.9,62.54 L152,62.53 L152.1,62.53 L152.2,62.52 L152.3,62.52 L152.4,62.51 L152.5,62.51 L152.6,62.51 L152.7,64.04 L152.8,71.7 L152.9,79.36 L153,87.02 L153.1,94.68 L153.2,100.04 L153.3,96.42 L153.4,93.14 L153.5,90.18 L153.6,87.5 L153.7,85.09 L153.8,82.91 L153.9,80.93 L154,79.15 L154.1,77.54 L154.2,76.09 L154.3,74.77 L154.4,73.58 L154.5,72.51 L154.6,71.54 L154.7,70.67 L154.8,69.88 L154.9,69.16 L155,68.52 L155.1,67.93 L155.2,67.4 L155.3,66.93 L155.4,66.5 L155.5,66.11 L155.6,65.76 L155.7,65.44 L155.8,65.15 L155.9,64.89 L156,64.66 L156.1,64.45 L156.2,64.26 L156.3,64.08 L156.4,63.93 L156.5,63.79 L156.6,63.66 L156.7,63.54 L156.8,63.44 L156.9,63.35 L157,63.26 L157.1,63.18 L157.2,63.12 L157.3,63.05 L157.4,63 L157.5,62.94 L157.6,62.9 L157.7,62.86 L157.8,62.82 L157.9,62.78 L158,62.75 L158.1,62.72 L158.2,62.7 L158.3,62.68 L158.4,62.66 L158.5,62.64 L158.6,62.62 L158.7,62.6 L158.8,62.59 L158.9,62.58 L159,62.57 L159.1,62.56 L159.2,62.55 L159.3,62.54 L159.4,62.53 L159.5,62.52 L159.6,62.52 L159.7,62.51 L159.8,62.51 L159.9,62.5 L160,62.5 L160.1,62.49 L160.2,62.49 L160.3,62.49 L160.4,62.48 L160.5,65.54 L160.6,71.67 L160.7,77.8 L160.8,83.92 L160.9,90.05 L161,91.63 L161.1,88.87 L161.2,86.38 L161.3,84.12 L161.4,82.07 L161.5,80.22 L161.6,78.54 L161.7,77.02 L161.8,75.65 L161.9,74.4 L162,73.27 L162.1,72.25 L162.2,71.32 L162.3,70.49 L162.4,69.73 L162.5,69.04 L162.6,68.42 L162.7,67.85 L162.8,67.34 L162.9,66.88 L163,66.46 L163.1,66.08 L163.2,65.74 L163.3,65.43 L163.4,65.15 L163.5,64.89 L163.6,64.66 L163.7,64.45 L163.8,64.26 L163.9,64.09 L164,63.94 L164.1,63.79 L164.2,63.67 L164.3,63.55 L164.4,63.45 L164.5,63.35 L164.6,63.27 L164.7,63.19 L164.8,63.12 L164.9,63.05 L165,63 L165.1,62.94 L165.2,62.9 L165.3,62.85 L165.4,62.81 L165.5,62.78 L165.6,62.75 L165.7,62.72 L165.8,62.69 L165.9,62.67 L166,62.65 L166.1,62.63 L166.2,62.61 L166.3,62.59 L166.4,62.58 L166.5,62.57 L166.6,62.55 L166.7,62.54 L166.8,62.53 L166.9,62.52 L167,62.52 L167.1,62.51 L167.2,62.5 L167.3,62.49 L167.4,62.49 L167.5,62.48 L167.6,62.48 L167.7,62.48 L167.8,62.47 L167.9,62.47 L168,62.46 L168.1,62.46 L168.2,62.46 L168.3,66.23 L168.4,70.94 L168.5,75.65 L168.6,80.36 L168.7,85.07 L168.8,84.25 L168.9,82.23 L169,80.4 L169.1,78.73 L169.2,77.22 L169.3,75.85 L169.4,74.61 L169.5,73.48 L169.6,72.46 L169.7,71.53 L169.8,70.69 L169.9,69.92 L170,69.23 L170.1,68.6 L170.2,68.03 L170.3,67.51 L170.4,67.04 L170.5,66.61 L170.6,66.22 L170.7,65.87 L170.8,65.55 L170.9,65.26 L171,65 L171.1,64.76 L171.2,64.55 L171.3,64.35 L171.4,64.17 L171.5,64.01 L171.6,63.86 L171.7,63.73 L171.8,63.61 L171.9,63.5 L172,63.4 L172.1,63.31 L172.2,63.23 L172.3,63.15 L172.4,63.08 L172.5,63.02 L172.6,62.97 L172.7,62.92 L172.8,62.87 L172.9,62.83 L173,62.79 L173.1,62.76 L173.2,62.72 L173.3,62.7 L173.4,62.67 L173.5,62.65 L173.6,62.63 L173.7,62.61 L173.8,62.59 L173.9,62.57 L174,62.56 L174.1,62.55 L174.2,62.53 L174.3,62.52 L174.4,62.51 L174.5,62.5 L174.6,62.49 L174.7,62.49 L174.8,62.48 L174.9,62.47 L175,62.47 L175.1,62.46 L175.2,62.46 L175.3,62.45 L175.4,62.45 L175.5,62.45 L175.6,62.44 L175.7,62.44 L175.8,62.44 L175.9,62.44 L176,62.81 L176.1,66.56 L176.2,70.32 L176.3,74.08 L176.4,77.83 L176.5,81.03 L176.6,79.33 L176.7,77.78 L176.8,76.38 L176.9,75.1 L177,73.94 L177.1,72.89 L177.2,71.93 L177.3,71.06 L177.4,70.27 L177.5,69.55 L177.6,68.9 L177.7,68.3 L177.8,67.77 L177.9,67.28 L178,66.83 L178.1,66.43 L178.2,66.06 L178.3,65.72 L178.4,65.42 L178.5,65.15 L178.6,64.89 L178.7,64.67 L178.8,64.46 L178.9,64.27 L179,64.1 L179.1,63.95 L179.2,63.8 L179.3,63.68 L179.4,63.56 L179.5,63.45 L179.6,63.36 L179.7,63.27 L179.8,63.19 L179.9,63.12 L180,63.05 L180.1,62.99 L180.2,62.94 L180.3,62.89 L180.4,62.84 L180.5,62.8 L180.6,62.77 L180.7,62.73 L180.8,62.7 L180.9,62.67 L181,62.65 L181.1,62.62 L181.2,62.6 L181.3,62.58 L181.4,62.57 L181.5,62.55 L181.6,62.54 L181.7,62.52 L181.8,62.51 L181.9,62.5 L182,62.49 L182.1,62.48 L182.2,62.47 L182.3,62.47 L182.4,62.46 L182.5,62.45 L182.6,62.45 L182.7,62.44 L182.8,62.44 L182.9,62.43 L183,62.43 L183.1,62.43 L183.2,62.42 L183.3,62.42 L183.4,62.42 L183.5,62.41 L183.6,62.41 L183.7,62.41 L183.8,63.75 L183.9,67.11 L184,70.47 L184.1,73.83 L184.2,77.19 L184.3,78.58 L184.4,77.11 L184.5,75.77 L184.6,74.55 L184.7,73.45 L184.8,72.44 L184.9,71.53 L185,70.7 L185.1,69.94 L185.2,69.26 L185.3,68.63 L185.4,68.06 L185.5,67.55 L185.6,67.08 L185.7,66.65 L185.8,66.26 L185.9,65.91 L186,65.59 L186.1,65.3 L186.2,65.03 L186.3,64.79 L186.4,64.57 L186.5,64.37 L186.6,64.19 L186.7,64.03 L186.8,63.88 L186.9,63.74 L187,63.62 L187.1,63.5 L187.2,63.4 L187.3,63.31 L187.4,63.22 L187.5,63.15 L187.6,63.08 L187.7,63.01 L187.8,62.96 L187.9,62.9 L188,62.85 L188.1,62.81 L188.2,62.77 L188.3,62.74 L188.4,62.7 L188.5,62.67 L188.6,62.65 L188.7,62.62 L188.8,62.6 L188.9,62.58 L189,62.56 L189.1,62.54 L189.2,62.53 L189.3,62.51 L189.4,62.5 L189.5,62.49 L189.6,62.48 L189.7,62.47 L189.8,62.46 L189.9,62.45 L190,62.44 L190.1,62.44 L190.2,62.43 L190.3,62.42 L190.4,62.42 L190.5,62.41 L190.6,62.41 L190.7,62.41 L190.8,62.4 L190.9,62.4 L191,62.4 L191.1,62.39 L191.2,62.39 L191.3,62.39 L191.4,62.39 L191.5,62.38 L191.6,64.35 L191.7,67.15 L191.8,69.96 L191.9,72.76 L192,75.57 L192.1,75.51 L192.2,74.32 L192.3,73.25 L192.4,72.26 L192.5,71.37 L192.6,70.56 L192.7,69.82 L192.8,69.15 L192.9,68.53 L193,67.98 L193.1,67.47 L193.2,67.01 L193.3,66.59 L193.4,66.21 L193.5,65.86 L193.6,65.55 L193.7,65.26 L193.8,65 L193.9,64.76 L194,64.54 L194.1,64.34 L194.2,64.17 L194.3,64 L194.4,63.85 L194.5,63.72 L194.6,63.6 L194.7,63.48 L194.8,63.38 L194.9,63.29 L195,63.21 L195.1,63.13 L195.2,63.06 L195.3,63 L195.4,62.94 L195.5,62.88 L195.6,62.84 L195.7,62.79 L195.8,62.75 L195.9,62.72 L196,62.68 L196.1,62.65 L196.2,62.63 L196.3,62.6 L196.4,62.58 L196.5,62.56 L196.6,62.54 L196.7,62.52 L196.8,62.51 L196.9,62.49 L197,62.48 L197.1,62.47 L197.2,62.46 L197.3,62.45 L197.4,62.44 L197.5,62.43 L197.6,62.42 L197.7,62.42 L197.8,62.41 L197.9,62.4 L198,62.4 L198.1,62.39 L198.2,62.39 L198.3,62.39 L198.4,62.38 L198.5,62.38 L198.6,62.38 L198.7,62.37 L198.8,62.37 L198.9,62.37 L199,62.37 L199.1,62.36 L199.2,62.36 L199.3,62.36 L199.4,65.03 L199.5,67.7 L199.6,70.37 L199.7,73.04 L199.8,75.71 L199.9,74.5 L200,73.41 L200.1,72.41 L200.2,71.51 L200.3,70.68 L200.4,69.93 L200.5,69.25 L200.6,68.62 L200.7,68.06 L200.8,67.54 L200.9,67.07 L201,66.65 L201.1,66.26 L201.2,65.91 L201.3,65.59 L201.4,65.29 L201.5,65.03 L201.6,64.78 L201.7,64.56 L201.8,64.36 L201.9,64.18 L202,64.01 L202.1,63.86 L202.2,63.73 L202.3,63.6 L202.4,63.49 L202.5,63.38 L202.6,63.29 L202.7,63.2 L202.8,63.12 L202.9,63.05 L203,62.99 L203.1,62.93 L203.2,62.87 L203.3,62.83 L203.4,62.78 L203.5,62.74 L203.6,62.7 L203.7,62.67 L203.8,62.64 L203.9,62.61 L204,62.59 L204.1,62.56 L204.2,62.54 L204.3,62.52 L204.4,62.5 L204.5,62.49 L204.6,62.47 L204.7,62.46 L204.8,62.45 L204.9,62.44 L205,62.43 L205.1,62.42 L205.2,62.41 L205.3,62.4 L205.4,62.4 L205.5,62.39 L205.6,62.38 L205.7,62.38 L205.8,62.37 L205.9,62.37 L206,62.36 L206.1,62.36 L206.2,62.36 L206.3,62.35 L206.4,62.35 L206.5,62.35 L206.6,62.35 L206.7,62.34 L206.8,62.34 L206.9,62.34 L207,62.34 L207.1,63.06 L207.2,65.47 L207.3,67.89 L207.4,70.3 L207.5,72.72 L207.6,74.07 L207.7,73.02 L207.8,72.06 L207.9,71.18 L208,70.39 L208.1,69.66 L208.2,69 L208.3,68.4 L208.4,67.86 L208.5,67.36 L208.6,66.91 L208.7,66.5 L208.8,66.12 L208.9,65.78 L209,65.47 L209.1,65.19 L209.2,64.93 L209.3,64.69 L209.4,64.48 L209.5,64.28 L209.6,64.11 L209.7,63.95 L209.8,63.8 L209.9,63.67 L210,63.54 L210.1,63.43 L210.2,63.33 L210.3,63.24 L210.4,63.16 L210.5,63.08 L210.6,63.01 L210.7,62.95 L210.8,62.89 L210.9,62.84 L211,62.79 L211.1,62.75 L211.2,62.71 L211.3,62.67 L211.4,62.64 L211.5,62.61 L211.6,62.58 L211.7,62.56 L211.8,62.54 L211.9,62.51 L212,62.5 L212.1,62.48 L212.2,62.46 L212.3,62.45 L212.4,62.44 L212.5,62.42 L212.6,62.41 L212.7,62.4 L212.8,62.39 L212.9,62.39 L213,62.38 L213.1,62.37 L213.2,62.37 L213.3,62.36 L213.4,62.35 L213.5,62.35 L213.6,62.35 L213.7,62.34 L213.8,62.34 L213.9,62.33 L214,62.33 L214.1,62.33 L214.2,62.33 L214.3,62.32 L214.4,62.32 L214.5,62.32 L214.6,62.32 L214.7,62.32 L214.8,62.31 L214.9,63.62 L215,65.8 L215.1,67.98 L215.2,70.16 L215.3,72.34 L215.4,72.61 L215.5,71.69 L215.6,70.85 L215.7,70.08 L215.8,69.39 L215.9,68.75 L216,68.17 L216.1,67.65 L216.2,67.17 L216.3,66.73 L216.4,66.34 L216.5,65.97 L216.6,65.64 L216.7,65.34 L216.8,65.07 L216.9,64.82 L217,64.6 L217.1,64.39 L217.2,64.2 L217.3,64.03 L217.4,63.88 L217.5,63.73 L217.6,63.6 L217.7,63.49 L217.8,63.38 L217.9,63.28 L218,63.19 L218.1,63.11 L218.2,63.04 L218.3,62.97 L218.4,62.91 L218.5,62.85 L218.6,62.8 L218.7,62.76 L218.8,62.71 L218.9,62.68 L219,62.64 L219.1,62.61 L219.2,62.58 L219.3,62.55 L219.4,62.53 L219.5,62.51 L219.6,62.49 L219.7,62.47 L219.8,62.45 L219.9,62.44 L220,62.42 L220.1,62.41 L220.2,62.4 L220.3,62.39 L220.4,62.38 L220.5,62.37 L220.6,62.36 L220.7,62.35 L220.8,62.35 L220.9,62.34 L221,62.34 L221.1,62.33 L221.2,62.33 L221.3,62.32 L221.4,62.32 L221.5,62.31 L221.6,62.31 L221.7,62.31 L221.8,62.31 L221.9,62.3 L222,62.3 L222.1,62.3 L222.2,62.3 L222.3,62.29 L222.4,62.29 L222.5,62.29 L222.6,62.29 L222.7,64.06 L222.8,66.02 L222.9,67.98 L223,69.95 L223.1,71.91 L223.2,71.31 L223.3,70.51 L223.4,69.77 L223.5,69.1 L223.6,68.49 L223.7,67.94 L223.8,67.43 L223.9,66.97 L224,66.55 L224.1,66.17 L224.2,65.82 L224.3,65.51 L224.4,65.22 L224.5,64.96 L224.6,64.72 L224.7,64.5 L224.8,64.3 L224.9,64.12 L225,63.95 L225.1,63.8 L225.2,63.67 L225.3,63.54 L225.4,63.43 L225.5,63.32 L225.6,63.23 L225.7,63.14 L225.8,63.06 L225.9,62.99 L226,62.93 L226.1,62.87 L226.2,62.81 L226.3,62.77 L226.4,62.72 L226.5,62.68 L226.6,62.64 L226.7,62.61 L226.8,62.58 L226.9,62.55 L227,62.52 L227.1,62.5 L227.2,62.48 L227.3,62.46 L227.4,62.44 L227.5,62.43 L227.6,62.41 L227.7,62.4 L227.8,62.39 L227.9,62.37 L228,62.36 L228.1,62.35 L228.2,62.35 L228.3,62.34 L228.4,62.33 L228.5,62.32 L228.6,62.32 L228.7,62.31 L228.8,62.31 L228.9,62.3 L229,62.3 L229.1,62.29 L229.2,62.29 L229.3,62.29 L229.4,62.28 L229.5,62.28 L229.6,62.28 L229.7,62.28 L229.8,62.28 L229.9,62.27 L230,62.27 L230.1,62.27 L230.2,62.27 L230.3,62.27 L230.4,62.62 L230.5,64.41 L230.6,66.2 L230.7,67.99 L230.8,69.78 L230.9,71.04 L231,70.26 L231.1,69.55 L231.2,68.9 L231.3,68.31 L231.4,67.77 L231.5,67.28 L231.6,66.83 L231.7,66.42 L231.8,66.05 L231.9,65.71 L232,65.4 L232.1,65.12 L232.2,64.87 L232.3,64.63 L232.4,64.42 L232.5,64.23 L232.6,64.05 L232.7,63.89 L232.8,63.74 L232.9,63.61 L233,63.49 L233.1,63.38 L233.2,63.28 L233.3,63.18 L233.4,63.1 L233.5,63.02 L233.6,62.96 L233.7,62.89 L233.8,62.83 L233.9,62.78 L234,62.73 L234.1,62.69 L234.2,62.65 L234.3,62.61 L234.4,62.58 L234.5,62.55 L234.6,62.52 L234.7,62.5 L234.8,62.47 L234.9,62.45 L235,62.43 L235.1,62.42 L235.2,62.4 L235.3,62.39 L235.4,62.37 L235.5,62.36 L235.6,62.35 L235.7,62.34 L235.8,62.33 L235.9,62.32 L236,62.31 L236.1,62.31 L236.2,62.3 L236.3,62.29 L236.4,62.29 L236.5,62.28 L236.6,62.28 L236.7,62.28 L236.8,62.27 L236.9,62.27 L237,62.27 L237.1,62.26 L237.2,62.26 L237.3,62.26 L237.4,62.25 L237.5,62.25 L237.6,62.25 L237.7,62.25 L237.8,62.25 L237.9,62.25 L238,62.24 L238.1,62.24 L238.2,63.11 L238.3,64.84 L238.4,66.57 L238.5,68.31 L238.6,70.04 L238.7,70.51 L238.8,69.77 L238.9,69.1 L239,68.49 L239.1,67.93 L239.2,67.43 L239.3,66.96 L239.4,66.54 L239.5,66.16 L239.6,65.81 L239.7,65.49 L239.8,65.2 L239.9,64.94 L240,64.69 L240.1,64.47 L240.2,64.27 L240.3,64.09 L240.4,63.93 L240.5,63.77 L240.6,63.64 L240.7,63.51 L240.8,63.4 L240.9,63.29 L241,63.2 L241.1,63.11 L241.2,63.03 L241.3,62.96 L241.4,62.89 L241.5,62.83 L241.6,62.78 L241.7,62.73 L241.8,62.68 L241.9,62.64 L242,62.6 L242.1,62.57 L242.2,62.54 L242.3,62.51 L242.4,62.48 L242.5,62.46 L242.6,62.44 L242.7,62.42 L242.8,62.4 L242.9,62.38 L243,62.37 L243.1,62.36 L243.2,62.34 L243.3,62.33 L243.4,62.32 L243.5,62.31 L243.6,62.3 L243.7,62.29 L243.8,62.29 L243.9,62.28 L244,62.27 L244.1,62.27 L244.2,62.26 L244.3,62.26 L244.4,62.25 L244.5,62.25 L244.6,62.25 L244.7,62.24 L244.8,62.24 L244.9,62.24 L245,62.24 L245.1,62.23 L245.2,62.23 L245.3,62.23 L245.4,62.23 L245.5,62.23 L245.6,62.22 L245.7,62.22 L245.8,62.22 L245.9,62.22 L246,63.4 L246.1,64.88 L246.2,66.36 L246.3,67.83 L246.4,69.31 L246.5,69.08 L246.6,68.47 L246.7,67.91 L246.8,67.41 L246.9,66.95 L247,66.53 L247.1,66.14 L247.2,65.79 L247.3,65.47 L247.4,65.18 L247.5,64.92 L247.6,64.68 L247.7,64.46 L247.8,64.26 L247.9,64.08 L248,63.91 L248.1,63.76 L248.2,63.62 L248.3,63.5 L248.4,63.38 L248.5,63.28 L248.6,63.18 L248.7,63.09 L248.8,63.01 L248.9,62.94 L249,62.88 L249.1,62.82 L249.2,62.76 L249.3,62.71 L249.4,62.67 L249.5,62.62 L249.6,62.59 L249.7,62.55 L249.8,62.52 L249.9,62.49 L250,62.46 L250.1,62.44 L250.2,62.42 L250.3,62.4 L250.4,62.38 L250.5,62.36 L250.6,62.35 L250.7,62.33 L250.8,62.32 L250.9,62.31 L251,62.3 L251.1,62.29 L251.2,62.28 L251.3,62.27 L251.4,62.27 L251.5,62.26 L251.6,62.25 L251.7,62.25 L251.8,62.24 L251.9,62.24 L252,62.23 L252.1,62.23 L252.2,62.23 L252.3,62.22 L252.4,62.22 L252.5,62.22 L252.6,62.21 L252.7,62.21 L252.8,62.21 L252.9,62.21 L253,62.21 L253.1,62.2 L253.2,62.2 L253.3,62.2 L253.4,62.2 L253.5,62.2 L253.6,62.2 L253.7,62.34 L253.8,63.83 L253.9,65.31 L254,66.79 L254.1,68.27 L254.2,69.54 L254.3,68.88 L254.4,68.29 L254.5,67.75 L254.6,67.26 L254.7,66.81 L254.8,66.4 L254.9,66.02 L255,65.68 L255.1,65.37 L255.2,65.09 L255.3,64.83 L255.4,64.6 L255.5,64.38 L255.6,64.19 L255.7,64.01 L255.8,63.85 L255.9,63.7 L256,63.56 L256.1,63.44 L256.2,63.33 L256.3,63.23 L256.4,63.13 L256.5,63.05 L256.6,62.97 L256.7,62.9 L256.8,62.84 L256.9,62.78 L257,62.72 L257.1,62.68 L257.2,62.63 L257.3,62.59 L257.4,62.55 L257.5,62.52 L257.6,62.49 L257.7,62.46 L257.8,62.44 L257.9,62.41 L258,62.39 L258.1,62.37 L258.2,62.35 L258.3,62.34 L258.4,62.32 L258.5,62.31 L258.6,62.3 L258.7,62.28 L258.8,62.27 L258.9,62.27 L259,62.26 L259.1,62.25 L259.2,62.24 L259.3,62.23 L259.4,62.23 L259.5,62.22 L259.6,62.22 L259.7,62.21 L259.8,62.21 L259.9,62.21 L260,62.2 L260.1,62.2 L260.2,62.2 L260.3,62.19 L260.4,62.19 L260.5,62.19 L260.6,62.19 L260.7,62.18 L260.8,62.18 L260.9,62.18 L261,62.18 L261.1,62.18 L261.2,62.18 L261.3,62.17 L261.4,62.17 L261.5,62.7 L261.6,64.03 L261.7,65.36 L261.8,66.68 L261.9,68.01 L262,68.56 L262.1,68 L262.2,67.48 L262.3,67.01 L262.4,66.58 L262.5,66.19 L262.6,65.83 L262.7,65.51 L262.8,65.21 L262.9,64.94 L263,64.7 L263.1,64.47 L263.2,64.27 L263.3,64.08 L263.4,63.91 L263.5,63.75 L263.6,63.61 L263.7,63.48 L263.8,63.37 L263.9,63.26 L264,63.16 L264.1,63.07 L264.2,62.99 L264.3,62.92 L264.4,62.85 L264.5,62.79 L264.6,62.73 L264.7,62.68 L264.8,62.63 L264.9,62.59 L265,62.55 L265.1,62.52 L265.2,62.48 L265.3,62.45 L265.4,62.43 L265.5,62.4 L265.6,62.38 L265.7,62.36 L265.8,62.34 L265.9,62.32 L266,62.31 L266.1,62.29 L266.2,62.28 L266.3,62.27 L266.4,62.26 L266.5,62.25 L266.6,62.24 L266.7,62.23 L266.8,62.22 L266.9,62.22 L267,62.21 L267.1,62.2 L267.2,62.2 L267.3,62.19 L267.4,62.19 L267.5,62.19 L267.6,62.18 L267.7,62.18 L267.8,62.18 L267.9,62.17 L268,62.17 L268.1,62.17 L268.2,62.16 L268.3,62.16 L268.4,62.16 L268.5,62.16 L268.6,62.16 L268.7,62.16 L268.8,62.15 L268.9,62.15 L269,62.15 L269.1,62.15 L269.2,62.15 L269.3,63.12 L269.4,64.51 L269.5,65.9 L269.6,67.3 L269.7,68.69 L269.8,68.67 L269.9,68.09 L270,67.56 L270.1,67.08 L270.2,66.64 L270.3,66.24 L270.4,65.88 L270.5,65.55 L270.6,65.25 L270.7,64.97 L270.8,64.72 L270.9,64.49 L271,64.28 L271.1,64.09 L271.2,63.92 L271.3,63.76 L271.4,63.62 L271.5,63.49 L271.6,63.37 L271.7,63.26 L271.8,63.16 L271.9,63.07 L272,62.98 L272.1,62.91 L272.2,62.84 L272.3,62.78 L272.4,62.72 L272.5,62.67 L272.6,62.62 L272.7,62.58 L272.8,62.54 L272.9,62.5 L273,62.47 L273.1,62.44 L273.2,62.41 L273.3,62.38 L273.4,62.36 L273.5,62.34 L273.6,62.32 L273.7,62.3 L273.8,62.29 L273.9,62.27 L274,62.26 L274.1,62.25 L274.2,62.24 L274.3,62.23 L274.4,62.22 L274.5,62.21 L274.6,62.2 L274.7,62.19 L274.8,62.19 L274.9,62.18 L275,62.18 L275.1,62.17 L275.2,62.17 L275.3,62.16 L275.4,62.16 L275.5,62.16 L275.6,62.15 L275.7,62.15 L275.8,62.15 L275.9,62.14 L276,62.14 L276.1,62.14 L276.2,62.14 L276.3,62.14 L276.4,62.13 L276.5,62.13 L276.6,62.13 L276.7,62.13 L276.8,62.13 L276.9,62.13 L277,62.13 L277.1,63.38 L277.2,64.64 L277.3,65.89 L277.4,67.15 L277.5,68.4 L277.6,67.85 L277.7,67.34 L277.8,66.88 L277.9,66.46 L278,66.08 L278.1,65.73 L278.2,65.41 L278.3,65.11 L278.4,64.85 L278.5,64.61 L278.6,64.39 L278.7,64.19 L278.8,64 L278.9,63.84 L279,63.68 L279.1,63.54 L279.2,63.42 L279.3,63.3 L279.4,63.2 L279.5,63.1 L279.6,63.01 L279.7,62.93 L279.8,62.86 L279.9,62.79 L280,62.73 L280.1,62.68 L280.2,62.63 L280.3,62.58 L280.4,62.54 L280.5,62.5 L280.6,62.47 L280.7,62.43 L280.8,62.4 L280.9,62.38 L281,62.35 L281.1,62.33 L281.2,62.31 L281.3,62.29 L281.4,62.28 L281.5,62.26 L281.6,62.25 L281.7,62.23 L281.8,62.22 L281.9,62.21 L282,62.2 L282.1,62.19 L282.2,62.18 L282.3,62.18 L282.4,62.17 L282.5,62.16 L282.6,62.16 L282.7,62.15 L282.8,62.15 L282.9,62.14 L283,62.14 L283.1,62.14 L283.2,62.13 L283.3,62.13 L283.4,62.13" fill="none" stroke="#484848" stroke-width="1.1" stroke-linejoin="round" />
<path d="M112.26,318.43 L112.85,317.63 L113.63,316.61 L114.57,315.4 L115.6,314.03 L116.7,312.54 L117.8,310.95 L118.87,309.3 L119.85,307.63 L120.78,305.9 L121.7,304.06 L122.61,302.14 L123.52,300.15 L124.43,298.08 L125.34,295.95 L126.24,293.78 L127.15,291.57 L128.07,289.29 L128.98,286.92 L129.89,284.48 L130.8,281.99 L131.72,279.48 L132.63,276.96 L133.54,274.46 L134.45,272.01 L135.36,269.56 L136.28,267.07 L137.19,264.58 L138.1,262.1 L139.01,259.65 L139.93,257.26 L140.84,254.95 L141.75,252.74 L142.66,250.61 L143.58,248.54 L144.49,246.53 L145.4,244.58 L146.31,242.71 L147.23,240.91 L148.14,239.19 L149.05,237.55 L149.96,236.02 L150.86,234.6 L151.76,233.26 L152.66,231.99 L153.57,230.78 L154.48,229.61 L155.41,228.47 L156.35,227.34 L157.31,226.22 L158.29,225.14 L159.28,224.09 L160.27,223.08 L161.27,222.11 L162.27,221.18 L163.26,220.3 L164.23,219.45 L165.2,218.66 L166.15,217.91 L167.1,217.21 L168.05,216.55 L168.99,215.92 L169.93,215.33 L170.88,214.75 L171.82,214.2 L172.77,213.67 L173.72,213.18 L174.67,212.73 L175.62,212.3 L176.57,211.89 L177.52,211.49 L178.47,211.09 L179.42,210.69 L180.36,210.3 L181.31,209.91 L182.26,209.53 L183.21,209.16 L184.16,208.8 L185.11,208.45 L186.06,208.11 L187.01,207.77 L187.96,207.45 L188.91,207.12 L189.85,206.8 L190.8,206.5 L191.75,206.2 L192.7,205.93 L193.65,205.67 L194.6,205.44 L195.5,205.24 L196.33,205.08 L197.14,204.94 L197.96,204.82 L198.83,204.7 L199.8,204.58 L200.91,204.44 L202.19,204.27 L203.68,204.08 L205.35,203.87 L207.15,203.64 L209.05,203.41 L211.01,203.18 L212.97,202.95 L214.92,202.73 L216.79,202.52 L218.61,202.32 L220.44,202.12 L222.26,201.92 L224.09,201.73 L225.91,201.55 L227.74,201.38 L229.56,201.21 L231.39,201.06 L233.21,200.92 L235.04,200.79 L236.86,200.67 L238.69,200.57 L240.51,200.46 L242.34,200.37 L244.16,200.27 L245.99,200.18 L247.81,200.1 L249.64,200.02 L251.46,199.94 L253.28,199.87 L255.11,199.8 L256.93,199.74 L258.76,199.67 L260.58,199.6 L262.44,199.52 L264.33,199.45 L266.24,199.37 L268.14,199.29 L270.01,199.21 L271.82,199.14 L273.55,199.07 L275.18,199.01 L276.76,198.96 L278.34,198.91 L279.89,198.87 L281.35,198.83 L282.7,198.8 L283.9,198.77 L284.91,198.74 L285.69,198.72" fill="none" stroke="#444" stroke-width="1.0" stroke-linejoin="round" />
<circle cx="119.9" cy="307" r="2" fill="none" stroke="#8a8a8a" stroke-width="0.8"/>
<circle cx="127.2" cy="291" r="2" fill="none" stroke="#8a8a8a" stroke-width="0.8"/>
<circle cx="134.5" cy="271.7" r="2" fill="none" stroke="#8a8a8a" stroke-width="0.8"/>
<circle cx="141.8" cy="251.6" r="2" fill="none" stroke="#8a8a8a" stroke-width="0.8"/>
<circle cx="149.1" cy="235.2" r="2" fill="none" stroke="#8a8a8a" stroke-width="0.8"/>
<circle cx="156.4" cy="226.8" r="2" fill="none" stroke="#8a8a8a" stroke-width="0.8"/>
<circle cx="164.2" cy="220" r="2" fill="none" stroke="#8a8a8a" stroke-width="0.8"/>
<circle cx="171.8" cy="215.1" r="2" fill="none" stroke="#8a8a8a" stroke-width="0.8"/>
<circle cx="179.4" cy="210.7" r="2" fill="none" stroke="#8a8a8a" stroke-width="0.8"/>
<circle cx="187" cy="209.2" r="2" fill="none" stroke="#8a8a8a" stroke-width="0.8"/>
<circle cx="194.6" cy="205.1" r="2" fill="none" stroke="#8a8a8a" stroke-width="0.8"/>
<circle cx="202.2" cy="204.9" r="2" fill="none" stroke="#8a8a8a" stroke-width="0.8"/>
<circle cx="209.8" cy="205.7" r="2" fill="none" stroke="#8a8a8a" stroke-width="0.8"/>
<circle cx="217.7" cy="204.6" r="2" fill="none" stroke="#8a8a8a" stroke-width="0.8"/>
<circle cx="225.5" cy="202.2" r="2" fill="none" stroke="#8a8a8a" stroke-width="0.8"/>
<circle cx="233.1" cy="200.2" r="2" fill="none" stroke="#8a8a8a" stroke-width="0.8"/>
<circle cx="241" cy="199" r="2" fill="none" stroke="#8a8a8a" stroke-width="0.8"/>
<circle cx="248.9" cy="201.4" r="2" fill="none" stroke="#8a8a8a" stroke-width="0.8"/>
<circle cx="256.8" cy="200.8" r="2" fill="none" stroke="#8a8a8a" stroke-width="0.8"/>
<circle cx="265" cy="199.9" r="2" fill="none" stroke="#8a8a8a" stroke-width="0.8"/>
<circle cx="273.4" cy="200.2" r="2" fill="none" stroke="#8a8a8a" stroke-width="0.8"/>
<circle cx="281.6" cy="199" r="2" fill="none" stroke="#8a8a8a" stroke-width="0.8"/>
<line x1="66.2" y1="565.45" x2="68.7" y2="565.45" stroke="#333" stroke-width="1.1" />
<line x1="64.2" y1="551.4" x2="68.7" y2="551.4" stroke="#333" stroke-width="1.1" />
<line x1="66.2" y1="537.35" x2="68.7" y2="537.35" stroke="#333" stroke-width="1.1" />
<line x1="64.2" y1="523.3" x2="68.7" y2="523.3" stroke="#333" stroke-width="1.1" />
<line x1="66.2" y1="509.25" x2="68.7" y2="509.25" stroke="#333" stroke-width="1.1" />
<line x1="64.2" y1="495.2" x2="68.7" y2="495.2" stroke="#333" stroke-width="1.1" />
<line x1="66.2" y1="481.15" x2="68.7" y2="481.15" stroke="#333" stroke-width="1.1" />
<line x1="64.2" y1="467.1" x2="68.7" y2="467.1" stroke="#333" stroke-width="1.1" />
<line x1="66.2" y1="453.05" x2="68.7" y2="453.05" stroke="#333" stroke-width="1.1" />
<line x1="64.2" y1="439" x2="68.7" y2="439" stroke="#333" stroke-width="1.1" />
<line x1="66.2" y1="424.95" x2="68.7" y2="424.95" stroke="#333" stroke-width="1.1" />
<line x1="64.2" y1="410.9" x2="68.7" y2="410.9" stroke="#333" stroke-width="1.1" />
<line x1="66.2" y1="396.85" x2="68.7" y2="396.85" stroke="#333" stroke-width="1.1" />
<line x1="64.2" y1="382.8" x2="68.7" y2="382.8" stroke="#333" stroke-width="1.1" />
<line x1="66.2" y1="368.75" x2="68.7" y2="368.75" stroke="#333" stroke-width="1.1" />
<text x="61.4" y="386"  font-family='"Liberation Sans", sans-serif' font-size="11.6" text-anchor="end" fill="#222" font-weight="normal" stroke="#222" stroke-width="0.12" >0</text>
<text x="61.4" y="414.1"  font-family='"Liberation Sans", sans-serif' font-size="11.6" text-anchor="end" fill="#222" font-weight="normal" stroke="#222" stroke-width="0.12" >-2000</text>
<text x="61.4" y="442.2"  font-family='"Liberation Sans", sans-serif' font-size="11.6" text-anchor="end" fill="#222" font-weight="normal" stroke="#222" stroke-width="0.12" >-4000</text>
<text x="61.4" y="470.3"  font-family='"Liberation Sans", sans-serif' font-size="11.6" text-anchor="end" fill="#222" font-weight="normal" stroke="#222" stroke-width="0.12" >-6000</text>
<text x="61.4" y="498.4"  font-family='"Liberation Sans", sans-serif' font-size="11.6" text-anchor="end" fill="#222" font-weight="normal" stroke="#222" stroke-width="0.12" >-8000</text>
<text x="61.4" y="526.5"  font-family='"Liberation Sans", sans-serif' font-size="11.6" text-anchor="end" fill="#222" font-weight="normal" stroke="#222" stroke-width="0.12" >-10000</text>
<text x="61.4" y="554.6"  font-family='"Liberation Sans", sans-serif' font-size="11.6" text-anchor="end" fill="#222" font-weight="normal" stroke="#222" stroke-width="0.12" >-12000</text>
<line x1="68.7" y1="566.3" x2="68.7" y2="568.8" stroke="#333" stroke-width="1.1" />
<line x1="92.9" y1="566.3" x2="92.9" y2="570.5" stroke="#333" stroke-width="1.1" />
<line x1="117.1" y1="566.3" x2="117.1" y2="568.8" stroke="#333" stroke-width="1.1" />
<line x1="141.3" y1="566.3" x2="141.3" y2="570.5" stroke="#333" stroke-width="1.1" />
<line x1="165.5" y1="566.3" x2="165.5" y2="568.8" stroke="#333" stroke-width="1.1" />
<line x1="189.7" y1="566.3" x2="189.7" y2="570.5" stroke="#333" stroke-width="1.1" />
<line x1="213.9" y1="566.3" x2="213.9" y2="568.8" stroke="#333" stroke-width="1.1" />
<line x1="238.1" y1="566.3" x2="238.1" y2="570.5" stroke="#333" stroke-width="1.1" />
<line x1="262.3" y1="566.3" x2="262.3" y2="568.8" stroke="#333" stroke-width="1.1" />
<line x1="286.5" y1="566.3" x2="286.5" y2="570.5" stroke="#333" stroke-width="1.1" />
<line x1="310.7" y1="566.3" x2="310.7" y2="568.8" stroke="#333" stroke-width="1.1" />
<line x1="334.9" y1="566.3" x2="334.9" y2="570.5" stroke="#333" stroke-width="1.1" />
<text x="92.9" y="581.4"  font-family='"Liberation Sans", sans-serif' font-size="11" text-anchor="middle" fill="#222" font-weight="normal" stroke="#222" stroke-width="0.12" >210</text>
<text x="141.3" y="581.4"  font-family='"Liberation Sans", sans-serif' font-size="11" text-anchor="middle" fill="#222" font-weight="normal" stroke="#222" stroke-width="0.12" >220</text>
<text x="189.7" y="581.4"  font-family='"Liberation Sans", sans-serif' font-size="11" text-anchor="middle" fill="#222" font-weight="normal" stroke="#222" stroke-width="0.12" >230</text>
<text x="238.1" y="581.4"  font-family='"Liberation Sans", sans-serif' font-size="11" text-anchor="middle" fill="#222" font-weight="normal" stroke="#222" stroke-width="0.12" >240</text>
<text x="286.5" y="581.4"  font-family='"Liberation Sans", sans-serif' font-size="11" text-anchor="middle" fill="#222" font-weight="normal" stroke="#222" stroke-width="0.12" >250</text>
<text x="334.9" y="581.4"  font-family='"Liberation Sans", sans-serif' font-size="11" text-anchor="middle" fill="#222" font-weight="normal" stroke="#222" stroke-width="0.12" >260</text>
<line x1="68.7" y1="382.8" x2="335.5" y2="382.8" stroke="#3a3a3a" stroke-width="1.3" />
<rect x="68.7" y="368.9" width="266.8" height="197.4" fill="none" stroke="#333" stroke-width="1.5"/>
<text x="146.1" y="600.9"  font-family='"Liberation Serif", serif' font-size="16" text-anchor="start" fill="#111" font-weight="normal" stroke="#111" stroke-width="0.3" >Wavelength (nm)</text>
<text x="13.4" y="359.5"  font-family='"Liberation Serif", serif' font-size="18.5" text-anchor="start" fill="#111" font-weight="normal" stroke="#111" stroke-width="0.3" >B</text>
<text x="0" y="0" transform="translate(18.2,462.8) rotate(-90)" font-family='"Liberation Serif", serif' font-size="16.5" text-anchor="middle" fill="#111" font-weight="normal" stroke="#111" stroke-width="0.3" >[θ] MRW (deg.dmol<tspan dy="-6" font-size="10">-1</tspan><tspan dy="6">.cm</tspan><tspan dy="-6" font-size="10">2</tspan><tspan dy="6">)</tspan></text>
<path d="M68.7,494.9 L69.02,496.53 L69.45,498.78 L69.97,501.45 L70.53,504.31 L71.09,507.13 L71.6,509.7 L72.08,512.09 L72.54,514.48 L73,516.85 L73.47,519.14 L73.97,521.3 L74.51,523.3 L75.09,525.14 L75.69,526.86 L76.32,528.46 L76.98,529.94 L77.67,531.29 L78.38,532.5 L79.13,533.58 L79.92,534.51 L80.74,535.31 L81.57,536 L82.4,536.59 L83.22,537.1 L84.03,537.48 L84.85,537.73 L85.67,537.88 L86.48,537.96 L87.28,538.03 L88.06,538.11 L88.81,538.25 L89.55,538.43 L90.27,538.6 L90.98,538.67 L91.7,538.59 L92.42,538.31 L93.12,537.75 L93.8,536.98 L94.47,536.06 L95.18,535.06 L95.93,534.05 L96.77,533.11 L97.73,532.18 L98.78,531.2 L99.89,530.22 L101,529.27 L102.08,528.38 L103.06,527.6 L103.96,526.92 L104.8,526.31 L105.6,525.76 L106.38,525.28 L107.14,524.86 L107.9,524.49 L108.66,524.18 L109.39,523.92 L110.11,523.72 L110.83,523.58 L111.54,523.51 L112.26,523.5 L112.98,523.58 L113.69,523.75 L114.41,523.99 L115.13,524.26 L115.86,524.54 L116.62,524.8 L117.37,525.05 L118.1,525.29 L118.85,525.54 L119.65,525.81 L120.5,526.09 L121.46,526.41 L122.52,526.75 L123.68,527.14 L124.9,527.54 L126.17,527.95 L127.45,528.34 L128.72,528.7 L129.96,529.01 L131.19,529.31 L132.44,529.59 L133.72,529.86 L135.05,530.12 L136.46,530.4 L137.97,530.71 L139.58,531.08 L141.24,531.44 L142.91,531.75 L144.56,531.95 L146.14,532 L147.67,531.87 L149.19,531.61 L150.68,531.24 L152.13,530.8 L153.52,530.31 L154.85,529.81 L156.09,529.31 L157.25,528.8 L158.36,528.25 L159.44,527.61 L160.52,526.88 L161.63,526 L162.76,524.95 L163.9,523.76 L165.05,522.45 L166.18,521.08 L167.3,519.68 L168.4,518.3 L169.48,516.93 L170.52,515.56 L171.55,514.16 L172.58,512.71 L173.62,511.2 L174.7,509.6 L175.83,507.87 L177.01,506 L178.21,504.07 L179.37,502.15 L180.48,500.3 L181.47,498.6 L182.34,497.08 L183.12,495.7 L183.83,494.39 L184.5,493.11 L185.16,491.79 L185.83,490.39 L186.46,489 L187.03,487.66 L187.58,486.3 L188.18,484.81 L188.86,483.11 L189.7,481.09 L190.7,478.7 L191.83,475.99 L193.06,473.06 L194.34,470.02 L195.65,466.97 L196.96,464.01 L198.28,461.12 L199.65,458.2 L201.04,455.27 L202.45,452.34 L203.83,449.45 L205.19,446.59 L206.52,443.71 L207.84,440.81 L209.15,437.92 L210.44,435.12 L211.7,432.46 L212.93,430.01 L214.12,427.79 L215.28,425.75 L216.41,423.86 L217.52,422.07 L218.62,420.34 L219.71,418.63 L220.81,416.92 L221.93,415.25 L223.04,413.63 L224.1,412.1 L225.1,410.66 L226,409.35 L226.73,408.24 L227.31,407.33 L227.82,406.52 L228.35,405.71 L229,404.82 L229.87,403.73 L231,402.41 L232.31,400.91 L233.74,399.31 L235.23,397.72 L236.71,396.22 L238.1,394.9 L239.41,393.75 L240.7,392.7 L241.97,391.75 L243.24,390.87 L244.53,390.05 L245.84,389.29 L247.19,388.59 L248.55,387.97 L249.93,387.42 L251.31,386.91 L252.7,386.44 L254.07,386 L255.45,385.59 L256.83,385.23 L258.22,384.9 L259.59,384.6 L260.96,384.34 L262.3,384.09 L263.61,383.88 L264.9,383.7 L266.17,383.55 L267.44,383.42 L268.73,383.3 L270.04,383.19 L271.28,383.1 L272.39,383.02 L273.52,382.95 L274.79,382.89 L276.33,382.85 L278.27,382.8 L280.74,382.76 L283.65,382.73 L286.83,382.71 L290.1,382.7 L293.28,382.68 L296.18,382.66 L298.68,382.64 L300.91,382.63 L303.05,382.61 L305.27,382.59 L307.76,382.56 L310.7,382.52 L314.45,382.45 L318.95,382.35 L323.71,382.25 L328.27,382.15 L332.16,382.06 L334.9,382" fill="none" stroke="#b3302a" stroke-width="1.1" stroke-linejoin="round" />
<path d="M68.7,509.11 L69,510.98 L69.42,513.61 L69.91,516.71 L70.46,519.96 L71.03,523.06 L71.6,525.7 L72.2,527.95 L72.86,530.05 L73.54,532 L74.22,533.79 L74.88,535.43 L75.48,536.9 L75.99,538.14 L76.44,539.13 L76.87,539.96 L77.3,540.72 L77.8,541.5 L78.38,542.39 L79.07,543.49 L79.85,544.73 L80.68,546 L81.53,547.15 L82.39,548.06 L83.22,548.6 L84.02,548.71 L84.82,548.46 L85.61,547.97 L86.41,547.35 L87.23,546.69 L88.06,546.1 L88.92,545.57 L89.82,545 L90.72,544.4 L91.63,543.76 L92.52,543.09 L93.38,542.39 L94.22,541.65 L95.03,540.86 L95.83,540.03 L96.63,539.19 L97.42,538.34 L98.22,537.5 L99.01,536.66 L99.78,535.78 L100.55,534.89 L101.34,534.03 L102.17,533.23 L103.06,532.5 L104.02,531.88 L105.02,531.33 L106.06,530.84 L107.13,530.38 L108.23,529.9 L109.36,529.4 L110.54,528.82 L111.79,528.18 L113.08,527.53 L114.34,526.94 L115.53,526.44 L116.62,526.1 L117.53,525.93 L118.32,525.91 L119.04,525.99 L119.75,526.12 L120.54,526.28 L121.46,526.41 L122.48,526.53 L123.55,526.68 L124.69,526.86 L125.92,527.03 L127.25,527.18 L128.72,527.3 L130.35,527.4 L132.16,527.47 L134.07,527.53 L136.03,527.57 L137.98,527.59 L139.85,527.6 L141.7,527.61 L143.58,527.62 L145.44,527.62 L147.25,527.58 L148.95,527.48 L150.5,527.3 L151.86,527.05 L153.06,526.73 L154.16,526.36 L155.19,525.93 L156.22,525.44 L157.27,524.9 L158.35,524.28 L159.42,523.58 L160.48,522.83 L161.52,522.04 L162.55,521.26 L163.56,520.5 L164.57,519.81 L165.55,519.16 L166.53,518.51 L167.49,517.81 L168.44,517.02 L169.37,516.11 L170.29,515.04 L171.18,513.85 L172.06,512.58 L172.94,511.25 L173.81,509.88 L174.7,508.51 L175.58,507.13 L176.45,505.74 L177.33,504.31 L178.21,502.83 L179.1,501.3 L180.02,499.7 L180.98,497.98 L181.99,496.14 L183.01,494.24 L184.02,492.35 L184.97,490.51 L185.83,488.79 L186.55,487.3 L187.14,486 L187.67,484.76 L188.23,483.44 L188.88,481.9 L189.7,480 L190.7,477.67 L191.83,475 L193.06,472.12 L194.34,469.12 L195.65,466.11 L196.96,463.19 L198.28,460.34 L199.65,457.46 L201.04,454.57 L202.45,451.68 L203.83,448.82 L205.19,446 L206.52,443.16 L207.84,440.28 L209.15,437.42 L210.44,434.65 L211.7,432.02 L212.93,429.6 L214.12,427.41 L215.28,425.41 L216.41,423.55 L217.52,421.79 L218.62,420.09 L219.71,418.4 L220.81,416.71 L221.93,415.06 L223.04,413.45 L224.1,411.93 L225.1,410.51 L226,409.21 L226.73,408.12 L227.31,407.22 L227.82,406.43 L228.35,405.64 L229,404.76 L229.87,403.69 L231,402.38 L232.31,400.88 L233.74,399.3 L235.23,397.71 L236.71,396.22 L238.1,394.9 L239.41,393.75 L240.7,392.71 L241.97,391.75 L243.24,390.87 L244.53,390.05 L245.84,389.29 L247.19,388.59 L248.55,387.97 L249.93,387.42 L251.31,386.91 L252.7,386.44 L254.07,386 L255.45,385.59 L256.83,385.23 L258.22,384.9 L259.59,384.6 L260.96,384.34 L262.3,384.09 L263.61,383.88 L264.9,383.69 L266.17,383.54 L267.44,383.41 L268.73,383.29 L270.04,383.19 L271.39,383.11 L272.75,383.04 L274.13,382.98 L275.51,382.95 L276.9,382.94 L278.27,382.94 L279.63,382.98 L280.96,383.05 L282.3,383.14 L283.65,383.24 L285.04,383.32 L286.5,383.36 L287.97,383.37 L289.44,383.37 L290.95,383.34 L292.54,383.31 L294.27,383.27 L296.18,383.22 L298.21,383.17 L300.3,383.11 L302.53,383.05 L304.96,382.97 L307.66,382.89 L310.7,382.8 L314.45,382.69 L318.95,382.56 L323.71,382.42 L328.27,382.29 L332.16,382.18 L334.9,382.1" fill="none" stroke="#111" stroke-width="1.4" stroke-linejoin="round" />
<line x1="202" y1="529.7" x2="227.5" y2="529.7" stroke="#111" stroke-width="1.6" />
<line x1="202" y1="550.4" x2="227.5" y2="550.4" stroke="#b3302a" stroke-width="1.3" />
<text x="232.7" y="534.1"  font-family='"Liberation Serif", serif' font-size="15" text-anchor="start" fill="#111" font-weight="normal" stroke="#111" stroke-width="0.3" >CtpH-LBD</text>
<text x="232.7" y="554.5"  font-family='"Liberation Serif", serif' font-size="15" text-anchor="start" fill="#b3302a" font-weight="normal" stroke="#b3302a" stroke-width="0.3" >CtpH-LBD + Pi</text>
<line x1="407.5" y1="249.3" x2="411.5" y2="249.3" stroke="#222" stroke-width="1.2" />
<line x1="409.3" y1="228" x2="411.5" y2="228" stroke="#222" stroke-width="1.2" />
<line x1="407.5" y1="206.7" x2="411.5" y2="206.7" stroke="#222" stroke-width="1.2" />
<line x1="409.3" y1="185.4" x2="411.5" y2="185.4" stroke="#222" stroke-width="1.2" />
<line x1="407.5" y1="164.1" x2="411.5" y2="164.1" stroke="#222" stroke-width="1.2" />
<line x1="409.3" y1="142.8" x2="411.5" y2="142.8" stroke="#222" stroke-width="1.2" />
<line x1="407.5" y1="121.5" x2="411.5" y2="121.5" stroke="#222" stroke-width="1.2" />
<line x1="409.3" y1="100.2" x2="411.5" y2="100.2" stroke="#222" stroke-width="1.2" />
<line x1="407.5" y1="78.9" x2="411.5" y2="78.9" stroke="#222" stroke-width="1.2" />
<line x1="409.3" y1="57.6" x2="411.5" y2="57.6" stroke="#222" stroke-width="1.2" />
<text x="404.8" y="252.6"  font-family='"Liberation Sans", sans-serif' font-size="11.4" text-anchor="end" fill="#222" font-weight="normal" stroke="#222" stroke-width="0.12" >30</text>
<text x="404.8" y="210"  font-family='"Liberation Sans", sans-serif' font-size="11.4" text-anchor="end" fill="#222" font-weight="normal" stroke="#222" stroke-width="0.12" >40</text>
<text x="404.8" y="167.4"  font-family='"Liberation Sans", sans-serif' font-size="11.4" text-anchor="end" fill="#222" font-weight="normal" stroke="#222" stroke-width="0.12" >50</text>
<text x="404.8" y="124.8"  font-family='"Liberation Sans", sans-serif' font-size="11.4" text-anchor="end" fill="#222" font-weight="normal" stroke="#222" stroke-width="0.12" >60</text>
<text x="404.8" y="82.2"  font-family='"Liberation Sans", sans-serif' font-size="11.4" text-anchor="end" fill="#222" font-weight="normal" stroke="#222" stroke-width="0.12" >70</text>
<line x1="411.5" y1="249.3" x2="411.5" y2="252.9" stroke="#222" stroke-width="1.2" />
<line x1="435.78" y1="249.3" x2="435.78" y2="251.5" stroke="#222" stroke-width="1.2" />
<line x1="460.06" y1="249.3" x2="460.06" y2="252.9" stroke="#222" stroke-width="1.2" />
<line x1="484.34" y1="249.3" x2="484.34" y2="251.5" stroke="#222" stroke-width="1.2" />
<line x1="508.62" y1="249.3" x2="508.62" y2="252.9" stroke="#222" stroke-width="1.2" />
<line x1="532.9" y1="249.3" x2="532.9" y2="251.5" stroke="#222" stroke-width="1.2" />
<line x1="557.18" y1="249.3" x2="557.18" y2="252.9" stroke="#222" stroke-width="1.2" />
<line x1="581.46" y1="249.3" x2="581.46" y2="251.5" stroke="#222" stroke-width="1.2" />
<line x1="605.74" y1="249.3" x2="605.74" y2="252.9" stroke="#222" stroke-width="1.2" />
<line x1="630.02" y1="249.3" x2="630.02" y2="251.5" stroke="#222" stroke-width="1.2" />
<line x1="654.3" y1="249.3" x2="654.3" y2="252.9" stroke="#222" stroke-width="1.2" />
<line x1="678.58" y1="249.3" x2="678.58" y2="251.5" stroke="#222" stroke-width="1.2" />
<text x="411.5" y="264.8"  font-family='"Liberation Sans", sans-serif' font-size="11.4" text-anchor="middle" fill="#222" font-weight="normal" stroke="#222" stroke-width="0.12" >30</text>
<text x="460.06" y="264.8"  font-family='"Liberation Sans", sans-serif' font-size="11.4" text-anchor="middle" fill="#222" font-weight="normal" stroke="#222" stroke-width="0.12" >40</text>
<text x="508.62" y="264.8"  font-family='"Liberation Sans", sans-serif' font-size="11.4" text-anchor="middle" fill="#222" font-weight="normal" stroke="#222" stroke-width="0.12" >50</text>
<text x="557.18" y="264.8"  font-family='"Liberation Sans", sans-serif' font-size="11.4" text-anchor="middle" fill="#222" font-weight="normal" stroke="#222" stroke-width="0.12" >60</text>
<text x="605.74" y="264.8"  font-family='"Liberation Sans", sans-serif' font-size="11.4" text-anchor="middle" fill="#222" font-weight="normal" stroke="#222" stroke-width="0.12" >70</text>
<text x="654.3" y="264.8"  font-family='"Liberation Sans", sans-serif' font-size="11.4" text-anchor="middle" fill="#222" font-weight="normal" stroke="#222" stroke-width="0.12" >80</text>
<rect x="411.5" y="53.3" width="266.5" height="196" fill="none" stroke="#222" stroke-width="1.4"/>
<text x="489.4" y="281"  font-family='"Liberation Serif", serif' font-size="16" text-anchor="start" fill="#111" font-weight="normal" stroke="#111" stroke-width="0.3" >Temperature (<tspan dy="-6" font-size="10">o</tspan><tspan dy="6">C)</tspan></text>
<text x="0" y="0" transform="translate(373.6,153.8) rotate(-90)" font-family='"Liberation Serif", serif' font-size="16.5" text-anchor="middle" fill="#111" font-weight="normal" stroke="#111" stroke-width="0.3" >Cp (kJ.K<tspan dy="-6" font-size="10">-1</tspan><tspan dy="6">.mol</tspan><tspan dy="-6" font-size="10">-1</tspan><tspan dy="6">)</tspan></text>
<text x="361" y="48.6"  font-family='"Liberation Serif", serif' font-size="19" text-anchor="start" fill="#111" font-weight="normal" stroke="#111" stroke-width="0.3" >C</text>
<path d="M411.5,174.45 L412.5,174.86 L413.5,174.32 L414.5,174.59 L415.5,174.44 L416.5,173.14 L417.5,172.84 L418.5,174.25 L419.5,172.91 L420.5,172.64 L421.5,173.87 L422.5,172.61 L423.5,173.06 L424.5,172.11 L425.5,172.16 L426.5,170.97 L427.5,171.64 L428.5,171.85 L429.5,170.95 L430.5,171.17 L431.5,170.85 L432.5,169.47 L433.5,170.76 L434.5,170.3 L435.5,169.59 L436.5,168.91 L437.5,170.41 L438.5,169.42 L439.5,169.61 L440.5,169.59 L441.5,168.93 L442.5,168.91 L443.5,167.57 L444.5,167.83 L445.5,166.75 L446.5,167.08 L447.5,166.42 L448.5,164.55 L449.5,164 L450.5,163.48 L451.5,164.03 L452.5,162.55 L453.5,162.24 L454.5,161.1 L455.5,160.82 L456.5,160.01 L457.5,159.33 L458.5,159.07 L459.5,158.43 L460.5,158.31 L461.5,157.32 L462.5,157.06 L463.5,156.28 L464.5,155.79 L465.5,154.55 L466.5,152.99 L467.5,153.09 L468.5,152.28 L469.5,151.27 L470.5,149.85 L471.5,149.1 L472.5,147.44 L473.5,147.36 L474.5,146.05 L475.5,144.71 L476.5,143.5 L477.5,143.81 L478.5,143.13 L479.5,140.94 L480.5,140.91 L481.5,139.32 L482.5,137.9 L483.5,137.05 L484.5,136.72 L485.5,135.97 L486.5,133.94 L487.5,134.1 L488.5,132.55 L489.5,133.05 L490.5,131.87 L491.5,132.34 L492.5,132.12 L493.5,130.9 L494.5,131.58 L495.5,130.06 L496.5,129.45 L497.5,130.55 L498.5,129.36 L499.5,129.78 L500.5,130.28 L501.5,130.76 L502.5,129.9 L503.5,129.89 L504.5,131.75 L505.5,131.25 L506.5,132.88 L507.5,133.55 L508.5,133.67 L509.5,134.71 L510.5,135.74 L511.5,136.85 L512.5,137.67 L513.5,138.43 L514.5,139.26 L515.5,140.46 L516.5,140.44 L517.5,140.96 L518.5,142.04 L519.5,141.88 L520.5,142.58 L521.5,144.28 L522.5,144.15 L523.5,144.81 L524.5,144.58 L525.5,145.86 L526.5,146.76 L527.5,146.49 L528.5,148.07 L529.5,148.72 L530.5,148.4 L531.5,149.9 L532.5,150.21 L533.5,151.1 L534.5,151.07 L535.5,152.16 L536.5,152.7 L537.5,151.93 L538.5,152.43 L539.5,153.94 L540.5,154.87 L541.5,153.99 L542.5,154.72 L543.5,155.32 L544.5,155.13 L545.5,155.5 L546.5,155.65 L547.5,155.98 L548.5,156.61 L549.5,156.17 L550.5,156.45 L551.5,157.38 L552.5,155.91 L553.5,157.13 L554.5,157.55 L555.5,156.72 L556.5,156.61 L557.5,157.91 L558.5,156.81 L559.5,156.78 L560.5,157.38 L561.5,158 L562.5,156.79 L563.5,157.31 L564.5,157.38 L565.5,158.5 L566.5,157.69 L567.5,158.62 L568.5,157.19 L569.5,157.59 L570.5,158.3 L571.5,158.85 L572.5,157.96 L573.5,157.52 L574.5,157.34 L575.5,158.25 L576.5,157.57 L577.5,158.93 L578.5,159.04 L579.5,157.66 L580.5,157.9 L581.5,159.08 L582.5,158.75 L583.5,159.13 L584.5,158.16 L585.5,157.71 L586.5,158.08 L587.5,159.19 L588.5,158.05 L589.5,158.22 L590.5,158.38 L591.5,158.38 L592.5,158.35 L593.5,159.46 L594.5,157.78 L595.5,157.44 L596.5,159.47 L597.5,159.31 L598.5,159.52 L599.5,158.3 L600.5,159.4 L601.5,159.32 L602.5,157.77 L603.5,158.87 L604.5,159.04 L605.5,158.63 L606.5,158.28 L607.5,157.75 L608.5,157.83 L609.5,157.55 L610.5,157.16 L611.5,158.24 L612.5,157.55 L613.5,158.62 L614.5,156.94 L615.5,158.72 L616.5,158.22 L617.5,158.66 L618.5,158.54 L619.5,158.49 L620.5,157.75 L621.5,156.49 L622.5,157.97 L623.5,156.69 L624.5,156.89 L625.5,157.58 L626.5,157.21 L627.5,156.9 L628.5,157.92 L629.5,157.15 L630.5,156.49 L631.5,156.22 L632.5,157.41 L633.5,156.51 L634.5,157.06 L635.5,156.07 L636.5,155.66 L637.5,156.28 L638.5,156.78 L639.5,155.34 L640.5,156.54 L641.5,156.73 L642.5,156.4 L643.5,156.35 L644.5,154.56 L645.5,155.77 L646.5,156.18 L647.5,154.39 L648.5,154.77 L649.5,154.67 L650.5,155.13 L651.5,154.82 L652.5,154.84 L653.5,155.39 L654.5,153.68 L655.5,153.7 L656.5,153.77 L657.5,153.68 L658.5,153.47 L659.5,155.28 L660.5,154.94 L661.5,153.24 L662.5,154.02 L663.5,153.55 L664.5,153.46 L665.5,153.44 L666.5,153.97 L667.5,153.76 L668.5,153.2 L669.5,152.76 L670.5,152.95 L671.5,152.44 L672.5,153.25 L673.5,153.5 L674.5,152.71 L675.5,151.99 L676.5,152.11 L677.5,152.43 L678.5,152.82" fill="none" stroke="#111" stroke-width="1.1" stroke-linejoin="round" />
<path d="M411.5,233.52 L412.5,232.54 L413.5,232.77 L414.5,232.12 L415.5,231.44 L416.5,230.96 L417.5,230.72 L418.5,230.58 L419.5,229.73 L420.5,229.62 L421.5,228.77 L422.5,227.93 L423.5,227.75 L424.5,227.4 L425.5,226 L426.5,225.93 L427.5,225.43 L428.5,225.59 L429.5,225.23 L430.5,223.99 L431.5,224.33 L432.5,223.77 L433.5,222.6 L434.5,222.48 L435.5,221.57 L436.5,222.14 L437.5,221.51 L438.5,221.43 L439.5,220.88 L440.5,220.29 L441.5,219.96 L442.5,219.27 L443.5,218.16 L444.5,218.35 L445.5,217.02 L446.5,216.64 L447.5,216.91 L448.5,215.36 L449.5,214.88 L450.5,214.37 L451.5,215.02 L452.5,213.6 L453.5,212.99 L454.5,213.86 L455.5,212.44 L456.5,213.21 L457.5,212.63 L458.5,212.56 L459.5,212.42 L460.5,211.53 L461.5,211.51 L462.5,210.03 L463.5,210.72 L464.5,209.95 L465.5,209.85 L466.5,208.56 L467.5,209.03 L468.5,208.81 L469.5,207.1 L470.5,206.94 L471.5,206.71 L472.5,206.47 L473.5,205.08 L474.5,204.37 L475.5,203.82 L476.5,203.64 L477.5,203.16 L478.5,202.03 L479.5,201.34 L480.5,200.73 L481.5,200.03 L482.5,199.48 L483.5,198.41 L484.5,198.32 L485.5,198.3 L486.5,196.94 L487.5,196.72 L488.5,195.31 L489.5,195.32 L490.5,194.71 L491.5,193.89 L492.5,192.95 L493.5,192.15 L494.5,191.54 L495.5,191 L496.5,189.23 L497.5,188.26 L498.5,188.04 L499.5,187.14 L500.5,185.56 L501.5,184.3 L502.5,183.5 L503.5,181.86 L504.5,180.88 L505.5,179.67 L506.5,178.83 L507.5,177.14 L508.5,175.44 L509.5,173.81 L510.5,171.6 L511.5,168.41 L512.5,165.65 L513.5,162.26 L514.5,159.18 L515.5,155.65 L516.5,152.15 L517.5,148.75 L518.5,145.15 L519.5,141.8 L520.5,138.05 L521.5,134.17 L522.5,130.46 L523.5,126.55 L524.5,122.82 L525.5,118.45 L526.5,114.79 L527.5,110.35 L528.5,106.16 L529.5,101.74 L530.5,97.51 L531.5,93.05 L532.5,88.45 L533.5,83.96 L534.5,79.51 L535.5,74.9 L536.5,70.06 L537.5,65.89 L538.5,62.24 L539.5,58.62 L540.5,56.42 L541.5,55.92 L542.5,57.21 L543.5,58.51 L544.5,60.83 L545.5,63.55 L546.5,66.62 L547.5,70.53 L548.5,74.95 L549.5,79.7 L550.5,85.25 L551.5,91.12 L552.5,97.31 L553.5,103.48 L554.5,110.31 L555.5,117.59 L556.5,125.4 L557.5,132.31 L558.5,137.24 L559.5,141.36 L560.5,145.26 L561.5,148.07 L562.5,150.81 L563.5,153.15 L564.5,154.96 L565.5,155.75 L566.5,157.21 L567.5,158.11 L568.5,158.71 L569.5,158.68 L570.5,159.53 L571.5,160.34 L572.5,159.58 L573.5,159.96 L574.5,159.34 L575.5,159.68 L576.5,160.43 L577.5,159.52 L578.5,160.92 L579.5,161 L580.5,159.62 L581.5,161.14 L582.5,160.13 L583.5,160.77 L584.5,160.67 L585.5,159.8 L586.5,160.35 L587.5,160.22 L588.5,160.38 L589.5,159.37 L590.5,160.09 L591.5,160.33 L592.5,159.73 L593.5,159.39 L594.5,158.56 L595.5,159.09 L596.5,158.73 L597.5,159.23 L598.5,159.05 L599.5,158.74 L600.5,157.98 L601.5,158.64 L602.5,158.49 L603.5,157.61 L604.5,158.69 L605.5,158.17 L606.5,157.16 L607.5,158.4 L608.5,156.95 L609.5,157.16 L610.5,157.69 L611.5,157.37 L612.5,157.18 L613.5,157.22 L614.5,156.79 L615.5,156.43 L616.5,156.09 L617.5,155.8 L618.5,156.78 L619.5,156.74 L620.5,156.28 L621.5,156.51 L622.5,155.76 L623.5,155.5 L624.5,155.59 L625.5,156.32 L626.5,154.81 L627.5,155.5 L628.5,154.96 L629.5,155.75 L630.5,154.95 L631.5,154.81 L632.5,154.84 L633.5,154.98 L634.5,155.28 L635.5,154.47 L636.5,155.22 L637.5,153.87 L638.5,154.05 L639.5,153.66 L640.5,153.59 L641.5,154.64 L642.5,154.46 L643.5,153.44 L644.5,153.35 L645.5,153.65 L646.5,154.12 L647.5,154.15 L648.5,153.95 L649.5,153.59 L650.5,152.74 L651.5,153.08 L652.5,152.64 L653.5,153.12 L654.5,153.11 L655.5,152.39 L656.5,152.38 L657.5,153.21 L658.5,151.83 L659.5,153.07 L660.5,153.13 L661.5,153.14 L662.5,152.09 L663.5,152.29 L664.5,152.26 L665.5,152.26 L666.5,152.76 L667.5,152.17 L668.5,151.42 L669.5,152.3 L670.5,151.57 L671.5,151.68 L672.5,151.81 L673.5,150.48 L674.5,151.71 L675.5,151.44 L676.5,151.06 L677.5,151.03 L678.5,150.83" fill="none" stroke="#b3302a" stroke-width="1.0" stroke-linejoin="round" />
<line x1="545.9" y1="213" x2="569.6" y2="213" stroke="#111" stroke-width="1.6" />
<line x1="545.9" y1="233.5" x2="569.6" y2="233.5" stroke="#b3302a" stroke-width="1.3" />
<text x="576.4" y="217.8"  font-family='"Liberation Serif", serif' font-size="15.3" text-anchor="start" fill="#111" font-weight="normal" stroke="#111" stroke-width="0.3" >CtpH-LBD</text>
<text x="576.4" y="237.9"  font-family='"Liberation Serif", serif' font-size="15.3" text-anchor="start" fill="#b3302a" font-weight="normal" stroke="#b3302a" stroke-width="0.3" >CtpH-LBD + Pi</text>
<rect x="517" y="299.2" width="4.6" height="1.4" fill="#bbb"/>
<line x1="406.5" y1="526.5" x2="410.5" y2="526.5" stroke="#333" stroke-width="1.2" />
<text x="399.2" y="531"  font-family='"Liberation Sans", sans-serif' font-size="13" text-anchor="end" fill="#222" font-weight="normal" stroke="#222" stroke-width="0.12" >0.0</text>
<line x1="406.5" y1="483.8" x2="410.5" y2="483.8" stroke="#333" stroke-width="1.2" />
<text x="399.2" y="488.3"  font-family='"Liberation Sans", sans-serif' font-size="13" text-anchor="end" fill="#222" font-weight="normal" stroke="#222" stroke-width="0.12" >0.5</text>
<line x1="406.5" y1="441.1" x2="410.5" y2="441.1" stroke="#333" stroke-width="1.2" />
<text x="399.2" y="445.6"  font-family='"Liberation Sans", sans-serif' font-size="13" text-anchor="end" fill="#222" font-weight="normal" stroke="#222" stroke-width="0.12" >1.0</text>
<line x1="406.5" y1="398.4" x2="410.5" y2="398.4" stroke="#333" stroke-width="1.2" />
<text x="399.2" y="402.9"  font-family='"Liberation Sans", sans-serif' font-size="13" text-anchor="end" fill="#222" font-weight="normal" stroke="#222" stroke-width="0.12" >1.5</text>
<line x1="406.5" y1="355.7" x2="410.5" y2="355.7" stroke="#333" stroke-width="1.2" />
<text x="399.2" y="360.2"  font-family='"Liberation Sans", sans-serif' font-size="13" text-anchor="end" fill="#222" font-weight="normal" stroke="#222" stroke-width="0.12" >2.0</text>
<line x1="434.75" y1="526.5" x2="434.75" y2="530.5" stroke="#333" stroke-width="1.2" />
<text x="434.75" y="547.6"  font-family='"Liberation Sans", sans-serif' font-size="12.5" text-anchor="middle" fill="#222" font-weight="normal" stroke="#222" stroke-width="0.12" >1</text>
<line x1="483.25" y1="526.5" x2="483.25" y2="530.5" stroke="#333" stroke-width="1.2" />
<text x="483.25" y="547.6"  font-family='"Liberation Sans", sans-serif' font-size="12.5" text-anchor="middle" fill="#222" font-weight="normal" stroke="#222" stroke-width="0.12" >2</text>
<line x1="531.75" y1="526.5" x2="531.75" y2="530.5" stroke="#333" stroke-width="1.2" />
<text x="531.75" y="547.6"  font-family='"Liberation Sans", sans-serif' font-size="12.5" text-anchor="middle" fill="#222" font-weight="normal" stroke="#222" stroke-width="0.12" >3</text>
<line x1="580.25" y1="526.5" x2="580.25" y2="530.5" stroke="#333" stroke-width="1.2" />
<text x="580.25" y="547.6"  font-family='"Liberation Sans", sans-serif' font-size="12.5" text-anchor="middle" fill="#222" font-weight="normal" stroke="#222" stroke-width="0.12" >4</text>
<line x1="628.75" y1="526.5" x2="628.75" y2="530.5" stroke="#333" stroke-width="1.2" />
<text x="628.75" y="547.6"  font-family='"Liberation Sans", sans-serif' font-size="12.5" text-anchor="middle" fill="#222" font-weight="normal" stroke="#222" stroke-width="0.12" >5</text>
<line x1="677.25" y1="526.5" x2="677.25" y2="530.5" stroke="#333" stroke-width="1.2" />
<text x="677.25" y="547.6"  font-family='"Liberation Sans", sans-serif' font-size="12.5" text-anchor="middle" fill="#222" font-weight="normal" stroke="#222" stroke-width="0.12" >6</text>
<rect x="410.5" y="315" width="267.8" height="211.5" fill="none" stroke="#333" stroke-width="1.5"/>
<text x="441.6" y="565.9"  font-family='"Liberation Serif", serif' font-size="16" text-anchor="start" fill="#111" font-weight="normal" stroke="#111" stroke-width="0.3" >Sedimentation coefficient (S)</text>
<text x="0" y="0" transform="translate(372,424.5) rotate(-90)" font-family='"Liberation Sans", sans-serif' font-size="15" text-anchor="middle" fill="#222" font-weight="normal" stroke="#222" stroke-width="0.1" ><tspan font-style="italic">c</tspan>(s) (AU/S)</text>
<text x="361.3" y="318.6"  font-family='"Liberation Serif", serif' font-size="19" text-anchor="start" fill="#111" font-weight="normal" stroke="#111" stroke-width="0.3" >D</text>
<path d="M410.5,526.5 L410.7,526.5 L410.91,526.5 L411.11,526.5 L411.31,526.5 L411.52,526.49 L411.72,526.49 L411.93,526.49 L412.13,526.49 L412.33,526.49 L412.54,526.49 L412.74,526.49 L412.94,526.48 L413.15,526.48 L413.35,526.48 L413.56,526.47 L413.76,526.47 L413.96,526.47 L414.17,526.46 L414.37,526.45 L414.57,526.45 L414.78,526.44 L414.98,526.43 L415.19,526.42 L415.39,526.41 L415.59,526.39 L415.8,526.38 L416,526.36 L416.2,526.34 L416.41,526.31 L416.61,526.29 L416.81,526.26 L417.02,526.22 L417.22,526.19 L417.43,526.14 L417.63,526.1 L417.83,526.04 L418.04,525.99 L418.24,525.92 L418.44,525.85 L418.65,525.76 L418.85,525.67 L419.06,525.57 L419.26,525.46 L419.46,525.34 L419.67,525.2 L419.87,525.05 L420.07,524.89 L420.28,524.71 L420.48,524.51 L420.69,524.3 L420.89,524.06 L421.09,523.81 L421.3,523.53 L421.5,523.22 L421.7,522.89 L421.91,522.53 L422.11,522.15 L422.31,521.73 L422.52,521.28 L422.72,520.8 L422.93,520.28 L423.13,519.73 L423.33,519.13 L423.54,518.49 L423.74,517.82 L423.94,517.1 L424.15,516.33 L424.35,515.52 L424.56,514.66 L424.76,513.75 L424.96,512.79 L425.17,511.78 L425.37,510.72 L425.57,509.6 L425.78,508.44 L425.98,507.22 L426.18,505.95 L426.39,504.63 L426.59,503.26 L426.8,501.84 L427,500.37 L427.2,498.85 L427.41,497.28 L427.61,495.68 L427.81,494.03 L428.02,492.34 L428.22,490.62 L428.43,488.87 L428.63,487.08 L428.83,485.28 L429.04,483.45 L429.24,481.61 L429.44,479.76 L429.65,477.9 L429.85,476.04 L430.06,474.19 L430.26,472.35 L430.46,470.52 L430.67,468.72 L430.87,466.94 L431.07,465.21 L431.28,463.51 L431.48,461.86 L431.68,460.26 L431.89,458.72 L432.09,457.25 L432.3,455.85 L432.5,454.53 L432.7,453.28 L432.91,452.13 L433.11,451.07 L433.31,450.1 L433.52,449.23 L433.72,448.47 L433.93,447.81 L434.13,447.27 L434.33,446.84 L434.54,446.52 L434.74,446.31 L434.94,446.23 L435.15,446.25 L435.35,446.36 L435.56,446.57 L435.76,446.86 L435.96,447.24 L436.17,447.71 L436.37,448.27 L436.57,448.91 L436.78,449.63 L436.98,450.43 L437.18,451.3 L437.39,452.25 L437.59,453.28 L437.8,454.36 L438,455.52 L438.2,456.73 L438.41,458 L438.61,459.32 L438.81,460.69 L439.02,462.11 L439.22,463.56 L439.43,465.05 L439.63,466.58 L439.83,468.13 L440.04,469.71 L440.24,471.31 L440.44,472.92 L440.65,474.54 L440.85,476.17 L441.06,477.81 L441.26,479.45 L441.46,481.08 L441.67,482.7 L441.87,484.32 L442.07,485.92 L442.28,487.5 L442.48,489.06 L442.68,490.61 L442.89,492.12 L443.09,493.61 L443.3,495.08 L443.5,496.51 L443.7,497.9 L443.91,499.27 L444.11,500.59 L444.31,501.88 L444.52,503.14 L444.72,504.35 L444.93,505.53 L445.13,506.66 L445.33,507.75 L445.54,508.81 L445.74,509.82 L445.94,510.8 L446.15,511.73 L446.35,512.62 L446.55,513.48 L446.76,514.29 L446.96,515.07 L447.17,515.81 L447.37,516.51 L447.57,517.18 L447.78,517.81 L447.98,518.41 L448.18,518.98 L448.39,519.51 L448.59,520.01 L448.8,520.49 L449,520.94 L449.2,521.35 L449.41,521.75 L449.61,522.11 L449.81,522.46 L450.02,522.78 L450.22,523.08 L450.43,523.36 L450.63,523.62 L450.83,523.86 L451.04,524.08 L451.24,524.29 L451.44,524.48 L451.65,524.66 L451.85,524.82 L452.05,524.97 L452.26,525.11 L452.46,525.24 L452.67,525.35 L452.87,525.46 L453.07,525.56 L453.28,525.65 L453.48,525.73 L453.68,525.81 L453.89,525.88 L454.09,525.94 L454.3,526 L454.5,526.05 L454.7,526.09 L454.91,526.14 L455.11,526.17 L455.31,526.21 L455.52,526.24 L455.72,526.27 L455.93,526.29 L456.13,526.32 L456.33,526.34 L456.54,526.35 L456.74,526.37 L456.94,526.39 L457.15,526.4 L457.35,526.41 L457.55,526.42 L457.76,526.43 L457.96,526.44 L458.17,526.45 L458.37,526.45 L458.57,526.46 L458.78,526.46 L458.98,526.47 L459.18,526.47 L459.39,526.48 L459.59,526.48 L459.8,526.48 L460,526.48 L460.2,526.49 L460.41,526.49 L460.61,526.49 L460.81,526.49 L461.02,526.49 L461.22,526.49 L461.43,526.49 L461.63,526.49 L461.83,526.5 L462.04,526.5 L462.24,526.5 L462.44,526.5 L462.65,526.5 L462.85,526.5 L463.05,526.5 L463.26,526.5 L463.46,526.5 L463.67,526.5 L463.87,526.5 L464.07,526.5 L464.28,526.5 L464.48,526.5 L464.68,526.5 L464.89,526.5 L465.09,526.5 L465.3,526.5 L465.5,526.5 L465.7,526.5 L465.91,526.5 L466.11,526.5 L466.31,526.5 L466.52,526.5 L466.72,526.5 L466.92,526.5 L467.13,526.5 L467.33,526.5 L467.54,526.5 L467.74,526.5 L467.94,526.5 L468.15,526.5 L468.35,526.5 L468.55,526.5 L468.76,526.5 L468.96,526.5 L469.17,526.5 L469.37,526.5 L469.57,526.5 L469.78,526.5 L469.98,526.5 L470.18,526.5 L470.39,526.5 L470.59,526.5 L470.8,526.5 L471,526.5 L471.2,526.5 L471.41,526.5 L471.61,526.5 L471.81,526.5 L472.02,526.5 L472.22,526.5 L472.42,526.5 L472.63,526.5 L472.83,526.5 L473.04,526.5 L473.24,526.5 L473.44,526.5 L473.65,526.5 L473.85,526.5 L474.05,526.5 L474.26,526.5 L474.46,526.5 L474.67,526.5 L474.87,526.5 L475.07,526.5 L475.28,526.5 L475.48,526.5 L475.68,526.5 L475.89,526.5 L476.09,526.5 L476.3,526.5 L476.5,526.5 L476.7,526.5 L476.91,526.5 L477.11,526.5 L477.31,526.5 L477.52,526.5 L477.72,526.5 L477.92,526.5 L478.13,526.5 L478.33,526.5 L478.54,526.5 L478.74,526.5 L478.94,526.5 L479.15,526.5 L479.35,526.5 L479.55,526.5 L479.76,526.5 L479.96,526.5 L480.17,526.5 L480.37,526.5 L480.57,526.5 L480.78,526.5 L480.98,526.5 L481.18,526.5 L481.39,526.5 L481.59,526.5 L481.8,526.5 L482,526.5 L482.2,526.5 L482.41,526.5 L482.61,526.5 L482.81,526.5 L483.02,526.5 L483.22,526.5 L483.42,526.5 L483.63,526.5 L483.83,526.5 L484.04,526.5 L484.24,526.5 L484.44,526.5 L484.65,526.5 L484.85,526.5 L485.05,526.5 L485.26,526.5 L485.46,526.5 L485.67,526.5 L485.87,526.5 L486.07,526.5 L486.28,526.5 L486.48,526.5 L486.68,526.5 L486.89,526.5 L487.09,526.5 L487.29,526.5 L487.5,526.5 L487.7,526.5 L487.91,526.5 L488.11,526.5 L488.31,526.5 L488.52,526.5 L488.72,526.5 L488.92,526.5 L489.13,526.5 L489.33,526.5 L489.54,526.5 L489.74,526.5 L489.94,526.5 L490.15,526.5 L490.35,526.5 L490.55,526.5 L490.76,526.5 L490.96,526.5 L491.17,526.5 L491.37,526.5 L491.57,526.5 L491.78,526.5 L491.98,526.5 L492.18,526.5 L492.39,526.5 L492.59,526.5 L492.79,526.5 L493,526.5 L493.2,526.5 L493.41,526.5 L493.61,526.5 L493.81,526.5 L494.02,526.5 L494.22,526.5 L494.42,526.5 L494.63,526.5 L494.83,526.5 L495.04,526.5 L495.24,526.5 L495.44,526.5 L495.65,526.5 L495.85,526.5 L496.05,526.5 L496.26,526.5 L496.46,526.5 L496.67,526.5 L496.87,526.5 L497.07,526.5 L497.28,526.5 L497.48,526.5 L497.68,526.5 L497.89,526.5 L498.09,526.5 L498.29,526.5 L498.5,526.5 L498.7,526.5 L498.91,526.5 L499.11,526.5 L499.31,526.5 L499.52,526.5 L499.72,526.5 L499.92,526.5 L500.13,526.5 L500.33,526.5 L500.54,526.5 L500.74,526.5 L500.94,526.5 L501.15,526.5 L501.35,526.5 L501.55,526.5 L501.76,526.5 L501.96,526.5 L502.16,526.5 L502.37,526.5 L502.57,526.5 L502.78,526.5 L502.98,526.5 L503.18,526.5 L503.39,526.5 L503.59,526.5 L503.79,526.5 L504,526.5 L504.2,526.5 L504.41,526.5 L504.61,526.5 L504.81,526.5 L505.02,526.5 L505.22,526.5 L505.42,526.5 L505.63,526.5 L505.83,526.5 L506.04,526.5 L506.24,526.5 L506.44,526.5 L506.65,526.5 L506.85,526.5 L507.05,526.5 L507.26,526.5 L507.46,526.5 L507.66,526.5 L507.87,526.5 L508.07,526.5 L508.28,526.5 L508.48,526.5 L508.68,526.5 L508.89,526.5 L509.09,526.5 L509.29,526.5 L509.5,526.5 L509.7,526.5 L509.91,526.5 L510.11,526.5 L510.31,526.5 L510.52,526.5 L510.72,526.5 L510.92,526.5 L511.13,526.5 L511.33,526.5 L511.54,526.5 L511.74,526.5 L511.94,526.5 L512.15,526.5 L512.35,526.5" fill="none" stroke="#111" stroke-width="1.6" stroke-linejoin="round" stroke-dasharray="8.2,8.2" stroke-dashoffset="11.77"/>
<path d="M410.5,525.72 L410.86,525.69 L411.22,525.66 L411.58,525.63 L411.94,525.59 L412.29,525.55 L412.65,525.51 L413.01,525.46 L413.37,525.41 L413.73,525.35 L414.09,525.28 L414.45,525.21 L414.81,525.13 L415.17,525.04 L415.52,524.93 L415.88,524.81 L416.24,524.67 L416.6,524.52 L416.96,524.34 L417.32,524.14 L417.68,523.91 L418.04,523.64 L418.4,523.34 L418.75,522.99 L419.11,522.6 L419.47,522.15 L419.83,521.65 L420.19,521.07 L420.55,520.42 L420.91,519.68 L421.27,518.85 L421.63,517.92 L421.98,516.89 L422.34,515.73 L422.7,514.44 L423.06,513.01 L423.42,511.43 L423.78,509.7 L424.14,507.8 L424.5,505.73 L424.86,503.47 L425.21,501.02 L425.57,498.39 L425.93,495.55 L426.29,492.52 L426.65,489.29 L427.01,485.86 L427.37,482.24 L427.73,478.43 L428.09,474.45 L428.44,470.31 L428.8,466.02 L429.16,461.59 L429.52,457.06 L429.88,452.44 L430.24,447.76 L430.6,443.05 L430.96,438.33 L431.32,433.65 L431.68,429.03 L432.03,424.51 L432.39,420.13 L432.75,415.92 L433.11,411.93 L433.47,408.19 L433.83,404.73 L434.19,401.6 L434.55,398.83 L434.91,396.44 L435.26,394.47 L435.62,392.93 L435.98,391.84 L436.34,391.23 L436.7,391.09 L437.06,391.39 L437.42,392.13 L437.78,393.29 L438.14,394.86 L438.49,396.83 L438.85,399.17 L439.21,401.86 L439.57,404.87 L439.93,408.17 L440.29,411.74 L440.65,415.54 L441.01,419.54 L441.37,423.7 L441.72,428 L442.08,432.4 L442.44,436.86 L442.8,441.37 L443.16,445.89 L443.52,450.39 L443.88,454.84 L444.24,459.23 L444.6,463.53 L444.95,467.72 L445.31,471.79 L445.67,475.71 L446.03,479.49 L446.39,483.1 L446.75,486.54 L447.11,489.81 L447.47,492.9 L447.83,495.8 L448.18,498.52 L448.54,501.06 L448.9,503.43 L449.26,505.62 L449.62,507.64 L449.98,509.5 L450.34,511.21 L450.7,512.76 L451.06,514.18 L451.41,515.47 L451.77,516.63 L452.13,517.67 L452.49,518.61 L452.85,519.46 L453.21,520.21 L453.57,520.87 L453.93,521.47 L454.29,521.99 L454.64,522.45 L455,522.86 L455.36,523.22 L455.72,523.53 L456.08,523.81 L456.44,524.04 L456.8,524.25 L457.16,524.43 L457.52,524.59 L457.87,524.72 L458.23,524.84 L458.59,524.94 L458.95,525.03 L459.31,525.1 L459.67,525.17 L460.03,525.22 L460.39,525.27 L460.75,525.31 L461.1,525.35 L461.46,525.38 L461.82,525.4 L462.18,525.42 L462.54,525.44 L462.9,525.46 L463.26,525.47 L463.62,525.48 L463.98,525.49 L464.34,525.5 L464.69,525.5 L465.05,525.51 L465.41,525.51 L465.77,525.51 L466.13,525.51 L466.49,525.51 L466.85,525.51 L467.21,525.5 L467.57,525.5 L467.92,525.49 L468.28,525.49 L468.64,525.48 L469,525.47 L469.36,525.46 L469.72,525.46 L470.08,525.45 L470.44,525.44 L470.8,525.42 L471.15,525.41 L471.51,525.4 L471.87,525.39 L472.23,525.38 L472.59,525.36 L472.95,525.35 L473.31,525.34 L473.67,525.32 L474.03,525.31 L474.38,525.29 L474.74,525.28 L475.1,525.26 L475.46,525.25 L475.82,525.23 L476.18,525.22 L476.54,525.2 L476.9,525.19 L477.26,525.17 L477.61,525.16 L477.97,525.14 L478.33,525.13 L478.69,525.11 L479.05,525.1 L479.41,525.08 L479.77,525.07 L480.13,525.06 L480.49,525.04 L480.84,525.03 L481.2,525.02 L481.56,525.01 L481.92,525 L482.28,524.99 L482.64,524.98 L483,524.97 L483.36,524.96 L483.72,524.95 L484.07,524.94 L484.43,524.94 L484.79,524.93 L485.15,524.93 L485.51,524.92 L485.87,524.92 L486.23,524.92 L486.59,524.92 L486.95,524.92 L487.3,524.92 L487.66,524.92 L488.02,524.92 L488.38,524.92 L488.74,524.93 L489.1,524.93 L489.46,524.94 L489.82,524.95 L490.18,524.95 L490.53,524.96 L490.89,524.97 L491.25,524.98 L491.61,524.99 L491.97,525 L492.33,525.02 L492.69,525.03 L493.05,525.04 L493.41,525.06 L493.76,525.07 L494.12,525.09 L494.48,525.11 L494.84,525.13 L495.2,525.14 L495.56,525.16 L495.92,525.18 L496.28,525.2 L496.64,525.22 L496.99,525.24 L497.35,525.26 L497.71,525.28 L498.07,525.31 L498.43,525.33 L498.79,525.35 L499.15,525.37 L499.51,525.4 L499.87,525.42 L500.23,525.44 L500.58,525.47 L500.94,525.49 L501.3,525.51 L501.66,525.54 L502.02,525.56 L502.38,525.58 L502.74,525.61 L503.1,525.63 L503.46,525.65 L503.81,525.67 L504.17,525.7 L504.53,525.72 L504.89,525.74 L505.25,525.76 L505.61,525.79 L505.97,525.81 L506.33,525.83 L506.69,525.85 L507.04,525.87 L507.4,525.89 L507.76,525.91 L508.12,525.93 L508.48,525.95 L508.84,525.97 L509.2,525.98 L509.56,526 L509.92,526.02 L510.27,526.04 L510.63,526.05 L510.99,526.07 L511.35,526.08 L511.71,526.1 L512.07,526.11 L512.43,526.13 L512.79,526.14 L513.15,526.15 L513.5,526.17 L513.86,526.18 L514.22,526.19 L514.58,526.2 L514.94,526.21 L515.3,526.22 L515.66,526.23 L516.02,526.24 L516.38,526.25 L516.73,526.26 L517.09,526.27 L517.45,526.28 L517.81,526.29 L518.17,526.3 L518.53,526.3 L518.89,526.31 L519.25,526.32 L519.61,526.32 L519.96,526.33 L520.32,526.34 L520.68,526.34 L521.04,526.35 L521.4,526.35 L521.76,526.36 L522.12,526.36 L522.48,526.37 L522.84,526.37 L523.19,526.38 L523.55,526.38 L523.91,526.38 L524.27,526.39 L524.63,526.39 L524.99,526.39 L525.35,526.4 L525.71,526.4 L526.07,526.4 L526.42,526.4 L526.78,526.41 L527.14,526.41 L527.5,526.41 L527.86,526.41 L528.22,526.41 L528.58,526.42 L528.94,526.42 L529.3,526.42 L529.65,526.42 L530.01,526.42 L530.37,526.42 L530.73,526.43 L531.09,526.43 L531.45,526.43 L531.81,526.43 L532.17,526.43 L532.53,526.43 L532.88,526.43 L533.24,526.43 L533.6,526.43 L533.96,526.44 L534.32,526.44 L534.68,526.44 L535.04,526.44 L535.4,526.44 L535.76,526.44 L536.12,526.44 L536.47,526.44 L536.83,526.44 L537.19,526.44 L537.55,526.44 L537.91,526.44 L538.27,526.44 L538.63,526.44 L538.99,526.44 L539.35,526.44 L539.7,526.45 L540.06,526.45 L540.42,526.45 L540.78,526.45 L541.14,526.45 L541.5,526.45 L541.86,526.45 L542.22,526.45 L542.58,526.45 L542.93,526.45 L543.29,526.45 L543.65,526.45 L544.01,526.45 L544.37,526.45 L544.73,526.45 L545.09,526.45 L545.45,526.45 L545.81,526.45 L546.16,526.45 L546.52,526.45 L546.88,526.45 L547.24,526.45 L547.6,526.45 L547.96,526.45 L548.32,526.45 L548.68,526.45 L549.04,526.45 L549.39,526.46 L549.75,526.46 L550.11,526.46 L550.47,526.46 L550.83,526.46 L551.19,526.46 L551.55,526.46 L551.91,526.46 L552.27,526.46 L552.62,526.46 L552.98,526.46 L553.34,526.46 L553.7,526.46 L554.06,526.46 L554.42,526.46 L554.78,526.46 L555.14,526.46 L555.5,526.46 L555.85,526.46 L556.21,526.46 L556.57,526.46 L556.93,526.46 L557.29,526.46 L557.65,526.46 L558.01,526.46 L558.37,526.46 L558.73,526.46 L559.08,526.46 L559.44,526.46 L559.8,526.46 L560.16,526.46 L560.52,526.46 L560.88,526.46 L561.24,526.46 L561.6,526.46 L561.96,526.46 L562.31,526.46 L562.67,526.46 L563.03,526.46 L563.39,526.46 L563.75,526.46 L564.11,526.46 L564.47,526.47 L564.83,526.47 L565.19,526.47 L565.54,526.47 L565.9,526.47 L566.26,526.47 L566.62,526.47 L566.98,526.47 L567.34,526.47 L567.7,526.47 L568.06,526.47 L568.42,526.47 L568.77,526.47 L569.13,526.47 L569.49,526.47 L569.85,526.47 L570.21,526.47 L570.57,526.47 L570.93,526.47 L571.29,526.47 L571.65,526.47 L572,526.47 L572.36,526.47 L572.72,526.47 L573.08,526.47 L573.44,526.47 L573.8,526.47 L574.16,526.47 L574.52,526.47 L574.88,526.47 L575.24,526.47 L575.59,526.47 L575.95,526.47 L576.31,526.47 L576.67,526.47 L577.03,526.47 L577.39,526.47 L577.75,526.47 L578.11,526.47 L578.47,526.47 L578.82,526.47 L579.18,526.47 L579.54,526.47 L579.9,526.47 L580.26,526.47 L580.62,526.47 L580.98,526.47 L581.34,526.47 L581.7,526.47 L582.05,526.47 L582.41,526.47 L582.77,526.47 L583.13,526.47 L583.49,526.47 L583.85,526.47 L584.21,526.47 L584.57,526.47 L584.93,526.47 L585.28,526.47 L585.64,526.47 L586,526.47 L586.36,526.47 L586.72,526.47 L587.08,526.47 L587.44,526.47 L587.8,526.47 L588.16,526.48 L588.51,526.48 L588.87,526.48 L589.23,526.48 L589.59,526.48 L589.95,526.48" fill="none" stroke="#111" stroke-width="1.6" stroke-linejoin="round" />
<path d="M443.96,526.23 L444.24,526.21 L444.52,526.19 L444.79,526.16 L445.07,526.14 L445.34,526.11 L445.62,526.08 L445.89,526.05 L446.17,526.01 L446.45,525.97 L446.72,525.93 L447,525.88 L447.27,525.82 L447.55,525.76 L447.82,525.69 L448.1,525.61 L448.38,525.52 L448.65,525.43 L448.93,525.32 L449.2,525.2 L449.48,525.06 L449.75,524.92 L450.03,524.75 L450.3,524.57 L450.58,524.36 L450.86,524.14 L451.13,523.88 L451.41,523.61 L451.68,523.3 L451.96,522.97 L452.23,522.6 L452.51,522.19 L452.79,521.75 L453.06,521.26 L453.34,520.73 L453.61,520.15 L453.89,519.52 L454.16,518.84 L454.44,518.1 L454.72,517.31 L454.99,516.44 L455.27,515.52 L455.54,514.52 L455.82,513.45 L456.09,512.31 L456.37,511.1 L456.64,509.8 L456.92,508.43 L457.2,506.97 L457.47,505.43 L457.75,503.81 L458.02,502.1 L458.3,500.31 L458.57,498.44 L458.85,496.48 L459.13,494.45 L459.4,492.33 L459.68,490.15 L459.95,487.89 L460.23,485.56 L460.5,483.18 L460.78,480.73 L461.05,478.24 L461.33,475.71 L461.61,473.14 L461.88,470.54 L462.16,467.93 L462.43,465.3 L462.71,462.68 L462.98,460.07 L463.26,457.48 L463.54,454.92 L463.81,452.4 L464.09,449.94 L464.36,447.55 L464.64,445.23 L464.91,443.01 L465.19,440.88 L465.47,438.86 L465.74,436.96 L466.02,435.19 L466.29,433.56 L466.57,432.08 L466.84,430.75 L467.12,429.59 L467.39,428.59 L467.67,427.77 L467.95,427.13 L468.22,426.67 L468.5,426.39 L468.77,426.28 L469.05,426.29 L469.32,426.39 L469.6,426.59 L469.88,426.88 L470.15,427.27 L470.43,427.75 L470.7,428.32 L470.98,428.97 L471.25,429.72 L471.53,430.55 L471.8,431.46 L472.08,432.45 L472.36,433.51 L472.63,434.65 L472.91,435.86 L473.18,437.13 L473.46,438.46 L473.73,439.85 L474.01,441.3 L474.29,442.79 L474.56,444.34 L474.84,445.92 L475.11,447.54 L475.39,449.19 L475.66,450.87 L475.94,452.58 L476.22,454.3 L476.49,456.05 L476.77,457.8 L477.04,459.57 L477.32,461.34 L477.59,463.11 L477.87,464.88 L478.14,466.64 L478.42,468.39 L478.7,470.13 L478.97,471.85 L479.25,473.56 L479.52,475.24 L479.8,476.9 L480.07,478.53 L480.35,480.14 L480.63,481.71 L480.9,483.25 L481.18,484.76 L481.45,486.23 L481.73,487.67 L482,489.07 L482.28,490.42 L482.55,491.74 L482.83,493.02 L483.11,494.26 L483.38,495.46 L483.66,496.62 L483.93,497.73 L484.21,498.81 L484.48,499.84 L484.76,500.83 L485.04,501.79 L485.31,502.7 L485.59,503.58 L485.86,504.41 L486.14,505.21 L486.41,505.97 L486.69,506.7 L486.97,507.39 L487.24,508.05 L487.52,508.68 L487.79,509.27 L488.07,509.84 L488.34,510.37 L488.62,510.88 L488.89,511.36 L489.17,511.82 L489.45,512.25 L489.72,512.65 L490,513.03 L490.27,513.4 L490.55,513.74 L490.82,514.06 L491.1,514.37 L491.38,514.65 L491.65,514.93 L491.93,515.18 L492.2,515.43 L492.48,515.65 L492.75,515.87 L493.03,516.08 L493.3,516.27 L493.58,516.45 L493.86,516.63 L494.13,516.79 L494.41,516.95 L494.68,517.1 L494.96,517.24 L495.23,517.38 L495.51,517.51 L495.79,517.63 L496.06,517.75 L496.34,517.87 L496.61,517.98 L496.89,518.09 L497.16,518.19 L497.44,518.29 L497.72,518.39 L497.99,518.48 L498.27,518.57 L498.54,518.66 L498.82,518.75 L499.09,518.84 L499.37,518.92 L499.64,519 L499.92,519.08 L500.2,519.16 L500.47,519.23 L500.75,519.31 L501.02,519.38 L501.3,519.45 L501.57,519.52 L501.85,519.59 L502.13,519.66 L502.4,519.73 L502.68,519.79 L502.95,519.86 L503.23,519.92 L503.5,519.98 L503.78,520.04 L504.05,520.1 L504.33,520.15 L504.61,520.21 L504.88,520.26 L505.16,520.32 L505.43,520.37 L505.71,520.42 L505.98,520.46 L506.26,520.51 L506.54,520.56 L506.81,520.6 L507.09,520.64 L507.36,520.68 L507.64,520.72 L507.91,520.75 L508.19,520.79 L508.47,520.82 L508.74,520.85 L509.02,520.88 L509.29,520.91 L509.57,520.94 L509.84,520.96 L510.12,520.99 L510.39,521.01 L510.67,521.03 L510.95,521.05 L511.22,521.06 L511.5,521.08 L511.77,521.09 L512.05,521.11 L512.32,521.12 L512.6,521.13 L512.88,521.14 L513.15,521.15 L513.43,521.15 L513.7,521.16 L513.98,521.16 L514.25,521.17 L514.53,521.17 L514.8,521.17 L515.08,521.18 L515.36,521.18 L515.63,521.18 L515.91,521.18 L516.18,521.18 L516.46,521.18 L516.73,521.18 L517.01,521.18 L517.29,521.18 L517.56,521.18 L517.84,521.18 L518.11,521.19 L518.39,521.19 L518.66,521.19 L518.94,521.19 L519.22,521.2 L519.49,521.2 L519.77,521.21 L520.04,521.22 L520.32,521.23 L520.59,521.23 L520.87,521.25 L521.14,521.26 L521.42,521.27 L521.7,521.29 L521.97,521.3 L522.25,521.32 L522.52,521.34 L522.8,521.36 L523.07,521.38 L523.35,521.41 L523.63,521.44 L523.9,521.46 L524.18,521.49 L524.45,521.53 L524.73,521.56 L525,521.6 L525.28,521.63 L525.55,521.67 L525.83,521.71 L526.11,521.76 L526.38,521.8 L526.66,521.85 L526.93,521.9 L527.21,521.95 L527.48,522 L527.76,522.05 L528.04,522.11 L528.31,522.16 L528.59,522.22 L528.86,522.28 L529.14,522.34 L529.41,522.4 L529.69,522.47 L529.97,522.53 L530.24,522.6 L530.52,522.67 L530.79,522.73 L531.07,522.8 L531.34,522.87 L531.62,522.94 L531.89,523.01 L532.17,523.08 L532.45,523.15 L532.72,523.23 L533,523.3 L533.27,523.37 L533.55,523.45 L533.82,523.52 L534.1,523.59 L534.38,523.66 L534.65,523.74 L534.93,523.81 L535.2,523.88 L535.48,523.95 L535.75,524.02 L536.03,524.09 L536.3,524.16 L536.58,524.23 L536.86,524.3 L537.13,524.37 L537.41,524.44 L537.68,524.5 L537.96,524.57 L538.23,524.63 L538.51,524.7 L538.79,524.76 L539.06,524.82 L539.34,524.88 L539.61,524.94 L539.89,525 L540.16,525.05 L540.44,525.11 L540.72,525.16 L540.99,525.21 L541.27,525.26 L541.54,525.31 L541.82,525.36 L542.09,525.41 L542.37,525.46 L542.64,525.5 L542.92,525.54 L543.2,525.59 L543.47,525.63 L543.75,525.67 L544.02,525.71 L544.3,525.74 L544.57,525.78 L544.85,525.81 L545.13,525.85 L545.4,525.88 L545.68,525.91 L545.95,525.94 L546.23,525.97 L546.5,525.99 L546.78,526.02 L547.05,526.05 L547.33,526.07 L547.61,526.09 L547.88,526.11 L548.16,526.14 L548.43,526.16 L548.71,526.18 L548.98,526.19 L549.26,526.21 L549.54,526.23 L549.81,526.24 L550.09,526.26 L550.36,526.27 L550.64,526.29 L550.91,526.3 L551.19,526.31 L551.47,526.32 L551.74,526.34 L552.02,526.35 L552.29,526.36 L552.57,526.36 L552.84,526.37 L553.12,526.38 L553.39,526.39 L553.67,526.4 L553.95,526.4 L554.22,526.41 L554.5,526.42 L554.77,526.42 L555.05,526.43 L555.32,526.43 L555.6,526.44 L555.88,526.44 L556.15,526.45 L556.43,526.45 L556.7,526.45 L556.98,526.46 L557.25,526.46 L557.53,526.46 L557.81,526.47 L558.08,526.47 L558.36,526.47 L558.63,526.47 L558.91,526.48 L559.18,526.48 L559.46,526.48 L559.73,526.48 L560.01,526.48 L560.29,526.48 L560.56,526.49 L560.84,526.49 L561.11,526.49 L561.39,526.49 L561.66,526.49 L561.94,526.49 L562.22,526.49 L562.49,526.49 L562.77,526.49 L563.04,526.49 L563.32,526.49 L563.59,526.49 L563.87,526.49 L564.14,526.5 L564.42,526.5 L564.7,526.5 L564.97,526.5 L565.25,526.5 L565.52,526.5 L565.8,526.5 L566.07,526.5 L566.35,526.5 L566.63,526.5 L566.9,526.5 L567.18,526.5 L567.45,526.5 L567.73,526.5 L568,526.5 L568.28,526.5 L568.56,526.5 L568.83,526.5 L569.11,526.5 L569.38,526.5 L569.66,526.5 L569.93,526.5 L570.21,526.5 L570.48,526.5 L570.76,526.5 L571.04,526.5 L571.31,526.5 L571.59,526.5 L571.86,526.5 L572.14,526.5 L572.41,526.5 L572.69,526.5 L572.97,526.5 L573.24,526.5 L573.52,526.5 L573.79,526.5 L574.07,526.5 L574.34,526.5 L574.62,526.5 L574.89,526.5 L575.17,526.5 L575.45,526.5 L575.72,526.5 L576,526.5 L576.27,526.5 L576.55,526.5 L576.82,526.5 L577.1,526.5 L577.38,526.5 L577.65,526.5 L577.93,526.5 L578.2,526.5 L578.48,526.5 L578.75,526.5 L579.03,526.5 L579.31,526.5 L579.58,526.5 L579.86,526.5 L580.13,526.5 L580.41,526.5 L580.68,526.5 L580.96,526.5 L581.23,526.5 L581.51,526.5 L581.79,526.5 L582.06,526.5 L582.34,526.5 L582.61,526.5 L582.89,526.5 L583.16,526.5 L583.44,526.5 L583.72,526.5 L583.99,526.5 L584.27,526.5 L584.54,526.5 L584.82,526.5 L585.09,526.5 L585.37,526.5 L585.64,526.5 L585.92,526.5 L586.2,526.5 L586.47,526.5 L586.75,526.5 L587.02,526.5 L587.3,526.5 L587.57,526.5 L587.85,526.5 L588.13,526.5 L588.4,526.5 L588.68,526.5 L588.95,526.5 L589.23,526.5 L589.5,526.5 L589.78,526.5 L590.06,526.5 L590.33,526.5 L590.61,526.5 L590.88,526.5 L591.16,526.5 L591.43,526.5 L591.71,526.5 L591.98,526.5 L592.26,526.5 L592.54,526.5 L592.81,526.5 L593.09,526.5 L593.36,526.5 L593.64,526.5 L593.91,526.5 L594.19,526.5 L594.47,526.5 L594.74,526.5 L595.02,526.5 L595.29,526.5 L595.57,526.5 L595.84,526.5 L596.12,526.5 L596.39,526.5 L596.67,526.5 L596.95,526.5 L597.22,526.5 L597.5,526.5 L597.77,526.5 L598.05,526.5 L598.32,526.5 L598.6,526.5 L598.88,526.5 L599.15,526.5 L599.43,526.5 L599.7,526.5 L599.98,526.5 L600.25,526.5 L600.53,526.5 L600.81,526.5 L601.08,526.5 L601.36,526.5 L601.63,526.5 L601.91,526.5 L602.18,526.5 L602.46,526.5 L602.73,526.5 L603.01,526.5 L603.29,526.5 L603.56,526.5 L603.84,526.5 L604.11,526.5 L604.39,526.5 L604.66,526.5 L604.94,526.5 L605.22,526.5 L605.49,526.5 L605.77,526.5 L606.04,526.5 L606.32,526.5 L606.59,526.5 L606.87,526.5 L607.14,526.5 L607.42,526.5 L607.7,526.5 L607.97,526.5 L608.25,526.5 L608.52,526.5 L608.8,526.5 L609.07,526.5 L609.35,526.5" fill="none" stroke="#b3302a" stroke-width="1.3" stroke-linejoin="round" stroke-dasharray="8.2,8.2" stroke-dashoffset="11.12"/>
<path d="M443.96,526 L444.3,525.99 L444.63,525.97 L444.96,525.95 L445.29,525.92 L445.62,525.9 L445.95,525.87 L446.28,525.83 L446.61,525.79 L446.94,525.75 L447.27,525.7 L447.6,525.63 L447.93,525.56 L448.27,525.48 L448.6,525.38 L448.93,525.27 L449.26,525.14 L449.59,524.99 L449.92,524.81 L450.25,524.6 L450.58,524.35 L450.91,524.07 L451.24,523.74 L451.57,523.37 L451.9,522.93 L452.23,522.43 L452.57,521.85 L452.9,521.19 L453.23,520.44 L453.56,519.58 L453.89,518.61 L454.22,517.52 L454.55,516.28 L454.88,514.9 L455.21,513.35 L455.54,511.62 L455.87,509.7 L456.2,507.58 L456.53,505.24 L456.87,502.67 L457.2,499.85 L457.53,496.79 L457.86,493.46 L458.19,489.85 L458.52,485.97 L458.85,481.81 L459.18,477.36 L459.51,472.62 L459.84,467.6 L460.17,462.31 L460.5,456.75 L460.83,450.94 L461.17,444.89 L461.5,438.63 L461.83,432.18 L462.16,425.56 L462.49,418.81 L462.82,411.97 L463.15,405.07 L463.48,398.15 L463.81,391.27 L464.14,384.46 L464.47,377.77 L464.8,371.26 L465.13,364.97 L465.47,358.95 L465.8,353.27 L466.13,347.96 L466.46,343.07 L466.79,338.65 L467.12,334.74 L467.45,331.38 L467.78,328.6 L468.11,326.43 L468.44,324.89 L468.77,324 L469.1,323.76 L469.43,324 L469.77,324.6 L470.1,325.57 L470.43,326.9 L470.76,328.59 L471.09,330.62 L471.42,332.97 L471.75,335.65 L472.08,338.62 L472.41,341.89 L472.74,345.42 L473.07,349.2 L473.4,353.21 L473.73,357.43 L474.07,361.84 L474.4,366.41 L474.73,371.13 L475.06,375.97 L475.39,380.91 L475.72,385.94 L476.05,391.01 L476.38,396.13 L476.71,401.26 L477.04,406.39 L477.37,411.5 L477.7,416.57 L478.03,421.58 L478.37,426.52 L478.7,431.37 L479.03,436.11 L479.36,440.74 L479.69,445.25 L480.02,449.62 L480.35,453.84 L480.68,457.91 L481.01,461.82 L481.34,465.57 L481.67,469.14 L482,472.54 L482.33,475.77 L482.67,478.82 L483,481.7 L483.33,484.41 L483.66,486.94 L483.99,489.3 L484.32,491.5 L484.65,493.53 L484.98,495.42 L485.31,497.15 L485.64,498.73 L485.97,500.18 L486.3,501.5 L486.63,502.7 L486.97,503.78 L487.3,504.75 L487.63,505.63 L487.96,506.41 L488.29,507.1 L488.62,507.73 L488.95,508.28 L489.28,508.77 L489.61,509.2 L489.94,509.59 L490.27,509.94 L490.6,510.25 L490.93,510.54 L491.27,510.8 L491.6,511.04 L491.93,511.26 L492.26,511.47 L492.59,511.68 L492.92,511.87 L493.25,512.07 L493.58,512.26 L493.91,512.45 L494.24,512.65 L494.57,512.84 L494.9,513.04 L495.23,513.24 L495.57,513.44 L495.9,513.64 L496.23,513.84 L496.56,514.04 L496.89,514.24 L497.22,514.43 L497.55,514.62 L497.88,514.8 L498.21,514.97 L498.54,515.14 L498.87,515.3 L499.2,515.44 L499.53,515.58 L499.87,515.7 L500.2,515.81 L500.53,515.9 L500.86,515.98 L501.19,516.05 L501.52,516.1 L501.85,516.13 L502.18,516.15 L502.51,516.16 L502.84,516.15 L503.17,516.13 L503.5,516.1 L503.83,516.05 L504.17,515.99 L504.5,515.92 L504.83,515.84 L505.16,515.75 L505.49,515.65 L505.82,515.55 L506.15,515.43 L506.48,515.31 L506.81,515.19 L507.14,515.06 L507.47,514.92 L507.8,514.79 L508.13,514.65 L508.47,514.5 L508.8,514.36 L509.13,514.22 L509.46,514.08 L509.79,513.94 L510.12,513.8 L510.45,513.66 L510.78,513.52 L511.11,513.39 L511.44,513.26 L511.77,513.13 L512.1,513.01 L512.43,512.89 L512.77,512.78 L513.1,512.67 L513.43,512.56 L513.76,512.47 L514.09,512.37 L514.42,512.28 L514.75,512.2 L515.08,512.13 L515.41,512.06 L515.74,511.99 L516.07,511.94 L516.4,511.89 L516.73,511.84 L517.07,511.81 L517.4,511.78 L517.73,511.75 L518.06,511.74 L518.39,511.73 L518.72,511.73 L519.05,511.73 L519.38,511.74 L519.71,511.76 L520.04,511.79 L520.37,511.82 L520.7,511.86 L521.03,511.91 L521.37,511.96 L521.7,512.02 L522.03,512.08 L522.36,512.16 L522.69,512.24 L523.02,512.32 L523.35,512.42 L523.68,512.51 L524.01,512.62 L524.34,512.73 L524.67,512.84 L525,512.97 L525.33,513.09 L525.67,513.22 L526,513.36 L526.33,513.5 L526.66,513.65 L526.99,513.8 L527.32,513.95 L527.65,514.11 L527.98,514.27 L528.31,514.44 L528.64,514.61 L528.97,514.78 L529.3,514.96 L529.63,515.14 L529.97,515.32 L530.3,515.5 L530.63,515.69 L530.96,515.88 L531.29,516.07 L531.62,516.26 L531.95,516.45 L532.28,516.65 L532.61,516.84 L532.94,517.03 L533.27,517.23 L533.6,517.43 L533.93,517.62 L534.27,517.82 L534.6,518.01 L534.93,518.21 L535.26,518.4 L535.59,518.6 L535.92,518.79 L536.25,518.98 L536.58,519.17 L536.91,519.36 L537.24,519.55 L537.57,519.73 L537.9,519.92 L538.23,520.1 L538.57,520.28 L538.9,520.46 L539.23,520.63 L539.56,520.8 L539.89,520.97 L540.22,521.14 L540.55,521.31 L540.88,521.47 L541.21,521.63 L541.54,521.78 L541.87,521.94 L542.2,522.09 L542.53,522.24 L542.87,522.38 L543.2,522.52 L543.53,522.66 L543.86,522.8 L544.19,522.93 L544.52,523.06 L544.85,523.18 L545.18,523.3 L545.51,523.42 L545.84,523.54 L546.17,523.65 L546.5,523.76 L546.83,523.87 L547.17,523.97 L547.5,524.07 L547.83,524.17 L548.16,524.27 L548.49,524.36 L548.82,524.45 L549.15,524.53 L549.48,524.62 L549.81,524.7 L550.14,524.77 L550.47,524.85 L550.8,524.92 L551.13,524.99 L551.47,525.06 L551.8,525.12 L552.13,525.19 L552.46,525.25 L552.79,525.3 L553.12,525.36 L553.45,525.41 L553.78,525.46 L554.11,525.51 L554.44,525.56 L554.77,525.6 L555.1,525.65 L555.43,525.69 L555.77,525.73 L556.1,525.76 L556.43,525.8 L556.76,525.83 L557.09,525.87 L557.42,525.9 L557.75,525.93 L558.08,525.96 L558.41,525.98 L558.74,526.01 L559.07,526.03 L559.4,526.06 L559.73,526.08 L560.07,526.1 L560.4,526.12 L560.73,526.14 L561.06,526.16 L561.39,526.18 L561.72,526.19 L562.05,526.21 L562.38,526.22 L562.71,526.24 L563.04,526.25 L563.37,526.26 L563.7,526.27 L564.03,526.28 L564.37,526.29 L564.7,526.3 L565.03,526.31 L565.36,526.32 L565.69,526.33 L566.02,526.34 L566.35,526.34 L566.68,526.35 L567.01,526.36 L567.34,526.36 L567.67,526.37 L568,526.38 L568.33,526.38 L568.67,526.38 L569,526.39 L569.33,526.39 L569.66,526.4 L569.99,526.4 L570.32,526.4 L570.65,526.41 L570.98,526.41 L571.31,526.41 L571.64,526.42 L571.97,526.42 L572.3,526.42 L572.63,526.42 L572.97,526.43 L573.3,526.43 L573.63,526.43 L573.96,526.43 L574.29,526.43 L574.62,526.43 L574.95,526.44 L575.28,526.44 L575.61,526.44 L575.94,526.44 L576.27,526.44 L576.6,526.44 L576.93,526.44 L577.27,526.44 L577.6,526.45 L577.93,526.45 L578.26,526.45 L578.59,526.45 L578.92,526.45 L579.25,526.45 L579.58,526.45 L579.91,526.45 L580.24,526.45 L580.57,526.45 L580.9,526.45 L581.23,526.45 L581.57,526.45 L581.9,526.45 L582.23,526.45 L582.56,526.45 L582.89,526.45 L583.22,526.45 L583.55,526.46 L583.88,526.46 L584.21,526.46 L584.54,526.46 L584.87,526.46 L585.2,526.46 L585.53,526.46 L585.87,526.46 L586.2,526.46 L586.53,526.46 L586.86,526.46 L587.19,526.46 L587.52,526.46 L587.85,526.46 L588.18,526.46 L588.51,526.46 L588.84,526.46 L589.17,526.46 L589.5,526.46 L589.83,526.46 L590.17,526.46 L590.5,526.46 L590.83,526.46 L591.16,526.46 L591.49,526.46 L591.82,526.46 L592.15,526.46 L592.48,526.46 L592.81,526.46 L593.14,526.46 L593.47,526.46 L593.8,526.46 L594.13,526.46 L594.47,526.46 L594.8,526.46 L595.13,526.46 L595.46,526.46 L595.79,526.46 L596.12,526.46 L596.45,526.46 L596.78,526.47 L597.11,526.47 L597.44,526.47 L597.77,526.47 L598.1,526.47 L598.43,526.47 L598.77,526.47 L599.1,526.47 L599.43,526.47 L599.76,526.47 L600.09,526.47 L600.42,526.47 L600.75,526.47 L601.08,526.47 L601.41,526.47 L601.74,526.47 L602.07,526.47 L602.4,526.47 L602.73,526.47 L603.07,526.47 L603.4,526.47 L603.73,526.47 L604.06,526.47 L604.39,526.47 L604.72,526.47 L605.05,526.47 L605.38,526.47 L605.71,526.47 L606.04,526.47 L606.37,526.47 L606.7,526.47 L607.03,526.47 L607.37,526.47 L607.7,526.47 L608.03,526.47 L608.36,526.47 L608.69,526.47 L609.02,526.47 L609.35,526.47" fill="none" stroke="#b3302a" stroke-width="1.3" stroke-linejoin="round" />
<line x1="516.2" y1="335.5" x2="541.2" y2="335.5" stroke="#111" stroke-width="1.5" stroke-dasharray="6,3.5"/>
<text x="549.4" y="339.5"  font-family='"Liberation Serif", serif' font-size="11.5" text-anchor="start" fill="#111" font-weight="normal" stroke="#111" stroke-width="0.3" >10 µM CtpH-LBD</text>
<line x1="516.2" y1="353.5" x2="541.2" y2="353.5" stroke="#111" stroke-width="1.5" />
<text x="549.4" y="357.7"  font-family='"Liberation Serif", serif' font-size="11.5" text-anchor="start" fill="#111" font-weight="normal" stroke="#111" stroke-width="0.3" >60 µM CtpH-LBD</text>
<line x1="516.2" y1="370.1" x2="541.2" y2="370.1" stroke="#b3302a" stroke-width="1.5" stroke-dasharray="6,3.5"/>
<text x="549.4" y="374.5"  font-family='"Liberation Serif", serif' font-size="11.25" text-anchor="start" fill="#b3302a" font-weight="normal" stroke="#b3302a" stroke-width="0.3" >10 µM CtpH-LBD + Pi</text>
<line x1="516.2" y1="387.6" x2="541.2" y2="387.6" stroke="#b3302a" stroke-width="1.5" />
<text x="549.4" y="391.6"  font-family='"Liberation Serif", serif' font-size="11.25" text-anchor="start" fill="#b3302a" font-weight="normal" stroke="#b3302a" stroke-width="0.3" >60 µM CtpH-LBD + Pi</text></svg>
</body></html>
